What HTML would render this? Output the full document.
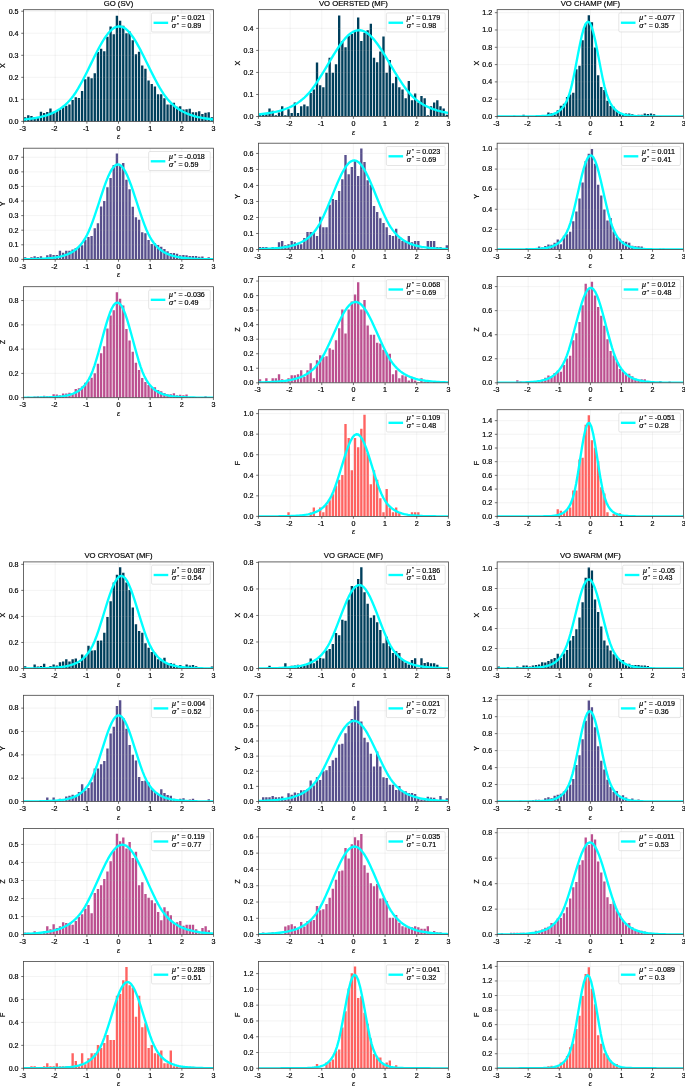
<!DOCTYPE html>
<html><head><meta charset="utf-8"><title>Histograms</title><style>html,body{margin:0;padding:0;background:#fff}svg{display:block;will-change:transform}</style></head><body>
<svg width="685" height="1086" viewBox="0 0 685 1086" font-family="Liberation Sans, sans-serif">
<rect width="685" height="1086" fill="#fff"/>
<clipPath id="c0"><rect x="23.55" y="9.70" width="189.90" height="111.70"/></clipPath>
<g clip-path="url(#c0)">
<path d="M23.95 121.40h2.37V117.21h-2.37zM27.11 121.40h2.37V115.23h-2.37zM30.28 121.40h2.37V116.11h-2.37zM33.44 121.40h2.37V116.99h-2.37zM36.61 121.40h2.37V116.99h-2.37zM39.77 121.40h2.37V111.71h-2.37zM42.94 121.40h2.37V113.03h-2.37zM46.10 121.40h2.37V111.93h-2.37zM49.27 121.40h2.37V108.40h-2.37zM52.43 121.40h2.37V112.59h-2.37zM55.60 121.40h2.37V110.82h-2.37zM58.76 121.40h2.37V109.50h-2.37zM61.93 121.40h2.37V107.30h-2.37zM65.09 121.40h2.37V105.76h-2.37zM68.26 121.40h2.37V104.44h-2.37zM71.42 121.40h2.37V100.03h-2.37zM74.59 121.40h2.37V97.17h-2.37zM77.75 121.40h2.37V98.05h-2.37zM80.92 121.40h2.37V91.00h-2.37zM84.08 121.40h2.37V79.32h-2.37zM87.25 121.40h2.37V76.68h-2.37zM90.41 121.40h2.37V78.22h-2.37zM93.58 121.40h2.37V73.15h-2.37zM96.74 121.40h2.37V52.00h-2.37zM99.91 121.40h2.37V48.70h-2.37zM103.07 121.40h2.37V51.34h-2.37zM106.24 121.40h2.37V36.80h-2.37zM109.40 121.40h2.37V26.44h-2.37zM112.57 121.40h2.37V34.16h-2.37zM115.73 121.40h2.37V15.87h-2.37zM118.90 121.40h2.37V20.72h-2.37zM122.06 121.40h2.37V25.78h-2.37zM125.23 121.40h2.37V33.27h-2.37zM128.39 121.40h2.37V31.51h-2.37zM131.56 121.40h2.37V40.32h-2.37zM134.72 121.40h2.37V54.20h-2.37zM137.89 121.40h2.37V51.78h-2.37zM141.05 121.40h2.37V65.44h-2.37zM144.22 121.40h2.37V68.74h-2.37zM147.38 121.40h2.37V80.42h-2.37zM150.55 121.40h2.37V83.95h-2.37zM153.71 121.40h2.37V86.59h-2.37zM156.88 121.40h2.37V94.30h-2.37zM160.04 121.40h2.37V94.30h-2.37zM163.21 121.40h2.37V98.27h-2.37zM166.37 121.40h2.37V104.44h-2.37zM169.54 121.40h2.37V104.44h-2.37zM172.70 121.40h2.37V102.67h-2.37zM175.87 121.40h2.37V106.64h-2.37zM179.03 121.40h2.37V106.20h-2.37zM182.20 121.40h2.37V109.50h-2.37zM185.36 121.40h2.37V109.28h-2.37zM188.53 121.40h2.37V108.84h-2.37zM191.69 121.40h2.37V112.37h-2.37zM194.86 121.40h2.37V112.37h-2.37zM198.02 121.40h2.37V111.27h-2.37zM201.19 121.40h2.37V113.91h-2.37zM204.35 121.40h2.37V112.81h-2.37zM207.52 121.40h2.37V112.15h-2.37zM210.68 121.40h2.37V117.21h-2.37z" fill="#003f5c"/>
<path d="M55.20 9.70V121.40M86.85 9.70V121.40M118.50 9.70V121.40M150.15 9.70V121.40M181.80 9.70V121.40M23.55 99.37H213.45M23.55 77.34H213.45M23.55 55.31H213.45M23.55 33.27H213.45M23.55 11.24H213.45" stroke="#a8a8a8" stroke-opacity="0.23" stroke-width="0.55" fill="none"/>
<path d="M23.55 119.60L25.47 119.41L27.39 119.19L29.30 118.95L31.22 118.69L33.14 118.40L35.06 118.08L36.98 117.72L38.90 117.32L40.81 116.89L42.73 116.40L44.65 115.86L46.57 115.27L48.49 114.61L50.40 113.88L52.32 113.07L54.24 112.17L56.16 111.18L58.08 110.08L60.00 108.87L61.91 107.52L63.83 106.02L65.75 104.37L67.67 102.54L69.59 100.51L71.50 98.26L73.42 95.78L75.34 93.02L77.26 89.97L79.18 86.70L81.10 83.27L83.01 79.69L84.93 75.98L86.85 72.18L88.77 68.30L90.69 64.39L92.60 60.47L94.52 56.58L96.44 52.76L98.36 49.05L100.28 45.49L102.20 42.13L104.11 39.00L106.03 36.15L107.95 33.60L109.87 31.40L111.79 29.56L113.70 28.13L115.62 27.11L117.54 26.52L119.46 26.36L121.38 26.65L123.30 27.37L125.21 28.52L127.13 30.08L129.05 32.03L130.97 34.35L132.89 36.99L134.80 39.93L136.72 43.14L138.64 46.56L140.56 50.17L142.48 53.92L144.40 57.76L146.31 61.67L148.23 65.59L150.15 69.50L152.07 73.36L153.99 77.13L155.90 80.80L157.82 84.34L159.74 87.72L161.66 90.94L163.58 93.90L165.50 96.57L167.41 98.98L169.33 101.16L171.25 103.12L173.17 104.90L175.09 106.50L177.00 107.95L178.92 109.25L180.84 110.43L182.76 111.50L184.68 112.46L186.60 113.33L188.51 114.11L190.43 114.82L192.35 115.46L194.27 116.03L196.19 116.56L198.10 117.03L200.02 117.45L201.94 117.83L203.86 118.18L205.78 118.49L207.70 118.78L209.61 119.03L211.53 119.26L213.45 119.47" stroke="#00ffff" stroke-width="2.35" fill="none" stroke-linejoin="round"/>
</g>
<rect x="23.55" y="9.70" width="189.90" height="111.70" fill="none" stroke="#444" stroke-width="0.8"/>
<path d="M23.55 121.40v2.3M55.20 121.40v2.3M86.85 121.40v2.3M118.50 121.40v2.3M150.15 121.40v2.3M181.80 121.40v2.3M213.45 121.40v2.3M23.55 121.40h-2.3M23.55 99.37h-2.3M23.55 77.34h-2.3M23.55 55.31h-2.3M23.55 33.27h-2.3M23.55 11.24h-2.3" stroke="#333" stroke-width="0.7" fill="none"/>
<g font-size="6.4" fill="#000" stroke="#000" stroke-width="0.18">
<text transform="translate(22.75 130.90) scale(1.113 1)" text-anchor="middle">-3</text>
<text transform="translate(54.40 130.90) scale(1.113 1)" text-anchor="middle">-2</text>
<text transform="translate(86.05 130.90) scale(1.113 1)" text-anchor="middle">-1</text>
<text transform="translate(118.50 130.90) scale(1.113 1)" text-anchor="middle">0</text>
<text transform="translate(150.15 130.90) scale(1.113 1)" text-anchor="middle">1</text>
<text transform="translate(181.80 130.90) scale(1.113 1)" text-anchor="middle">2</text>
<text transform="translate(213.45 130.90) scale(1.113 1)" text-anchor="middle">3</text>
<text transform="translate(18.55 123.70) scale(1.113 1)" text-anchor="end">0.0</text>
<text transform="translate(18.55 101.67) scale(1.113 1)" text-anchor="end">0.1</text>
<text transform="translate(18.55 79.64) scale(1.113 1)" text-anchor="end">0.2</text>
<text transform="translate(18.55 57.61) scale(1.113 1)" text-anchor="end">0.3</text>
<text transform="translate(18.55 35.57) scale(1.113 1)" text-anchor="end">0.4</text>
<text transform="translate(18.55 13.54) scale(1.113 1)" text-anchor="end">0.5</text>
</g>
<text transform="translate(5.15 65.55) rotate(-90) scale(1.113 1)" font-size="6.4" text-anchor="middle" fill="#000" stroke="#000" stroke-width="0.18">X</text>
<text x="118.50" y="139.40" font-size="7" font-style="italic" text-anchor="middle" fill="#000" stroke="#000" stroke-width="0.18">ε</text>
<text transform="translate(118.50 5.60) scale(0.965 1)" font-size="8" text-anchor="middle" fill="#000" stroke="#000" stroke-width="0.18">GO (SV)</text>
<rect x="151.45" y="13.00" width="58.80" height="19.00" rx="1.3" fill="#fff" fill-opacity="0.8" stroke="#d4d4d4" stroke-width="0.6"/>
<path d="M153.55 22.80h14.6" stroke="#00ffff" stroke-width="2.35"/>
<g font-size="6.4" fill="#000" stroke="#000" stroke-width="0.18" transform="translate(171.85 20.40) scale(1.113 1)"><text font-style="italic">μ</text><text x="4.7" y="-2.3" font-size="4.4">*</text><text x="8.6">=</text><text x="14.0">0.021</text></g>
<g font-size="6.4" fill="#000" stroke="#000" stroke-width="0.18" transform="translate(171.85 28.10) scale(1.113 1)"><text font-style="italic">σ</text><text x="4.7" y="-2.3" font-size="4.4">*</text><text x="8.6">=</text><text x="14.0">0.89</text></g>
<clipPath id="c1"><rect x="23.55" y="148.20" width="189.90" height="111.20"/></clipPath>
<g clip-path="url(#c1)">
<path d="M23.95 259.40h2.37V257.21h-2.37zM27.11 259.40h2.37V258.96h-2.37zM30.28 259.40h2.37V257.21h-2.37zM33.44 259.40h2.37V256.19h-2.37zM36.61 259.40h2.37V256.92h-2.37zM39.77 259.40h2.37V256.19h-2.37zM42.94 259.40h2.37V258.67h-2.37zM46.10 259.40h2.37V255.31h-2.37zM49.27 259.40h2.37V254.15h-2.37zM52.43 259.40h2.37V254.88h-2.37zM55.60 259.40h2.37V254.88h-2.37zM58.76 259.40h2.37V250.64h-2.37zM61.93 259.40h2.37V252.83h-2.37zM65.09 259.40h2.37V250.64h-2.37zM68.26 259.40h2.37V250.64h-2.37zM71.42 259.40h2.37V249.48h-2.37zM74.59 259.40h2.37V248.02h-2.37zM77.75 259.40h2.37V247.00h-2.37zM80.92 259.40h2.37V245.24h-2.37zM84.08 259.40h2.37V239.70h-2.37zM87.25 259.40h2.37V237.07h-2.37zM90.41 259.40h2.37V236.05h-2.37zM93.58 259.40h2.37V228.32h-2.37zM96.74 259.40h2.37V223.35h-2.37zM99.91 259.40h2.37V206.57h-2.37zM103.07 259.40h2.37V201.03h-2.37zM106.24 259.40h2.37V187.16h-2.37zM109.40 259.40h2.37V178.12h-2.37zM112.57 259.40h2.37V164.98h-2.37zM115.73 259.40h2.37V153.60h-2.37zM118.90 259.40h2.37V166.00h-2.37zM122.06 259.40h2.37V162.94h-2.37zM125.23 259.40h2.37V179.72h-2.37zM128.39 259.40h2.37V189.21h-2.37zM131.56 259.40h2.37V206.72h-2.37zM134.72 259.40h2.37V217.37h-2.37zM137.89 259.40h2.37V219.85h-2.37zM141.05 259.40h2.37V232.26h-2.37zM144.22 259.40h2.37V233.28h-2.37zM147.38 259.40h2.37V239.99h-2.37zM150.55 259.40h2.37V243.93h-2.37zM153.71 259.40h2.37V243.35h-2.37zM156.88 259.40h2.37V245.10h-2.37zM160.04 259.40h2.37V246.85h-2.37zM163.21 259.40h2.37V249.04h-2.37zM166.37 259.40h2.37V251.23h-2.37zM169.54 259.40h2.37V252.98h-2.37zM172.70 259.40h2.37V252.98h-2.37zM175.87 259.40h2.37V253.85h-2.37zM179.03 259.40h2.37V255.17h-2.37zM182.20 259.40h2.37V254.88h-2.37zM185.36 259.40h2.37V255.31h-2.37zM188.53 259.40h2.37V256.04h-2.37zM191.69 259.40h2.37V256.04h-2.37zM194.86 259.40h2.37V256.04h-2.37zM198.02 259.40h2.37V256.63h-2.37zM201.19 259.40h2.37V256.48h-2.37zM204.35 259.40h2.37V258.23h-2.37zM207.52 259.40h2.37V257.21h-2.37zM210.68 259.40h2.37V257.94h-2.37z" fill="#58508d"/>
<path d="M55.20 148.20V259.40M86.85 148.20V259.40M118.50 148.20V259.40M150.15 148.20V259.40M181.80 148.20V259.40M23.55 244.81H213.45M23.55 230.21H213.45M23.55 215.62H213.45M23.55 201.03H213.45M23.55 186.43H213.45M23.55 171.84H213.45M23.55 157.25H213.45" stroke="#a8a8a8" stroke-opacity="0.23" stroke-width="0.55" fill="none"/>
<path d="M23.55 259.25L25.47 259.23L27.39 259.20L29.30 259.16L31.22 259.12L33.14 259.08L35.06 259.02L36.98 258.96L38.90 258.89L40.81 258.80L42.73 258.70L44.65 258.59L46.57 258.45L48.49 258.29L50.40 258.11L52.32 257.90L54.24 257.64L56.16 257.35L58.08 257.01L60.00 256.61L61.91 256.15L63.83 255.61L65.75 254.98L67.67 254.24L69.59 253.38L71.50 252.38L73.42 251.21L75.34 249.84L77.26 248.25L79.18 246.39L81.10 244.23L83.01 241.70L84.93 238.75L86.85 235.31L88.77 231.29L90.69 226.64L92.60 221.54L94.52 216.11L96.44 210.42L98.36 204.57L100.28 198.66L102.20 192.81L104.11 187.18L106.03 181.88L107.95 177.07L109.87 172.89L111.79 169.44L113.70 166.84L115.62 165.16L117.54 164.46L119.46 164.75L121.38 166.04L123.30 168.28L125.21 171.39L127.13 175.29L129.05 179.86L130.97 184.98L132.89 190.49L134.80 196.27L136.72 202.17L138.64 208.06L140.56 213.83L142.48 219.38L144.40 224.61L146.31 229.48L148.23 233.75L150.15 237.41L152.07 240.55L153.99 243.25L155.90 245.55L157.82 247.53L159.74 249.22L161.66 250.68L163.58 251.92L165.50 252.99L167.41 253.91L169.33 254.69L171.25 255.36L173.17 255.94L175.09 256.43L177.00 256.86L178.92 257.22L180.84 257.53L182.76 257.80L184.68 258.03L186.60 258.22L188.51 258.39L190.43 258.54L192.35 258.66L194.27 258.76L196.19 258.86L198.10 258.93L200.02 259.00L201.94 259.06L203.86 259.11L205.78 259.15L207.70 259.18L209.61 259.21L211.53 259.24L213.45 259.26" stroke="#00ffff" stroke-width="2.35" fill="none" stroke-linejoin="round"/>
</g>
<rect x="23.55" y="148.20" width="189.90" height="111.20" fill="none" stroke="#444" stroke-width="0.8"/>
<path d="M23.55 259.40v2.3M55.20 259.40v2.3M86.85 259.40v2.3M118.50 259.40v2.3M150.15 259.40v2.3M181.80 259.40v2.3M213.45 259.40v2.3M23.55 259.40h-2.3M23.55 244.81h-2.3M23.55 230.21h-2.3M23.55 215.62h-2.3M23.55 201.03h-2.3M23.55 186.43h-2.3M23.55 171.84h-2.3M23.55 157.25h-2.3" stroke="#333" stroke-width="0.7" fill="none"/>
<g font-size="6.4" fill="#000" stroke="#000" stroke-width="0.18">
<text transform="translate(22.75 268.90) scale(1.113 1)" text-anchor="middle">-3</text>
<text transform="translate(54.40 268.90) scale(1.113 1)" text-anchor="middle">-2</text>
<text transform="translate(86.05 268.90) scale(1.113 1)" text-anchor="middle">-1</text>
<text transform="translate(118.50 268.90) scale(1.113 1)" text-anchor="middle">0</text>
<text transform="translate(150.15 268.90) scale(1.113 1)" text-anchor="middle">1</text>
<text transform="translate(181.80 268.90) scale(1.113 1)" text-anchor="middle">2</text>
<text transform="translate(213.45 268.90) scale(1.113 1)" text-anchor="middle">3</text>
<text transform="translate(18.55 261.70) scale(1.113 1)" text-anchor="end">0.0</text>
<text transform="translate(18.55 247.11) scale(1.113 1)" text-anchor="end">0.1</text>
<text transform="translate(18.55 232.51) scale(1.113 1)" text-anchor="end">0.2</text>
<text transform="translate(18.55 217.92) scale(1.113 1)" text-anchor="end">0.3</text>
<text transform="translate(18.55 203.33) scale(1.113 1)" text-anchor="end">0.4</text>
<text transform="translate(18.55 188.73) scale(1.113 1)" text-anchor="end">0.5</text>
<text transform="translate(18.55 174.14) scale(1.113 1)" text-anchor="end">0.6</text>
<text transform="translate(18.55 159.55) scale(1.113 1)" text-anchor="end">0.7</text>
</g>
<text transform="translate(5.15 203.80) rotate(-90) scale(1.113 1)" font-size="6.4" text-anchor="middle" fill="#000" stroke="#000" stroke-width="0.18">Y</text>
<text x="118.50" y="277.40" font-size="7" font-style="italic" text-anchor="middle" fill="#000" stroke="#000" stroke-width="0.18">ε</text>
<rect x="148.65" y="151.50" width="61.60" height="19.00" rx="1.3" fill="#fff" fill-opacity="0.8" stroke="#d4d4d4" stroke-width="0.6"/>
<path d="M150.75 161.30h14.6" stroke="#00ffff" stroke-width="2.35"/>
<g font-size="6.4" fill="#000" stroke="#000" stroke-width="0.18" transform="translate(169.05 158.90) scale(1.113 1)"><text font-style="italic">μ</text><text x="4.7" y="-2.3" font-size="4.4">*</text><text x="8.6">=</text><text x="14.0">-0.018</text></g>
<g font-size="6.4" fill="#000" stroke="#000" stroke-width="0.18" transform="translate(169.05 166.60) scale(1.113 1)"><text font-style="italic">σ</text><text x="4.7" y="-2.3" font-size="4.4">*</text><text x="8.6">=</text><text x="14.0">0.59</text></g>
<clipPath id="c2"><rect x="23.55" y="286.70" width="189.90" height="111.00"/></clipPath>
<g clip-path="url(#c2)">
<path d="M23.95 397.70h2.37V397.46h-2.37zM27.11 397.70h2.37V396.73h-2.37zM30.28 397.70h2.37V397.34h-2.37zM33.44 397.70h2.37V396.49h-2.37zM36.61 397.70h2.37V396.36h-2.37zM39.77 397.70h2.37V396.73h-2.37zM42.94 397.70h2.37V395.64h-2.37zM46.10 397.70h2.37V396.36h-2.37zM49.27 397.70h2.37V395.88h-2.37zM52.43 397.70h2.37V394.18h-2.37zM55.60 397.70h2.37V394.42h-2.37zM58.76 397.70h2.37V395.15h-2.37zM61.93 397.70h2.37V393.45h-2.37zM65.09 397.70h2.37V393.45h-2.37zM68.26 397.70h2.37V392.72h-2.37zM71.42 397.70h2.37V393.69h-2.37zM74.59 397.70h2.37V389.08h-2.37zM77.75 397.70h2.37V388.35h-2.37zM80.92 397.70h2.37V386.41h-2.37zM84.08 397.70h2.37V382.76h-2.37zM87.25 397.70h2.37V381.31h-2.37zM90.41 397.70h2.37V377.66h-2.37zM93.58 397.70h2.37V373.29h-2.37zM96.74 397.70h2.37V363.82h-2.37zM99.91 397.70h2.37V353.13h-2.37zM103.07 397.70h2.37V346.33h-2.37zM106.24 397.70h2.37V328.48h-2.37zM109.40 397.70h2.37V315.60h-2.37zM112.57 397.70h2.37V310.26h-2.37zM115.73 397.70h2.37V292.29h-2.37zM118.90 397.70h2.37V298.84h-2.37zM122.06 397.70h2.37V305.40h-2.37zM125.23 397.70h2.37V329.08h-2.37zM128.39 397.70h2.37V340.50h-2.37zM131.56 397.70h2.37V351.79h-2.37zM134.72 397.70h2.37V362.72h-2.37zM137.89 397.70h2.37V370.01h-2.37zM141.05 397.70h2.37V377.90h-2.37zM144.22 397.70h2.37V382.03h-2.37zM147.38 397.70h2.37V384.95h-2.37zM150.55 397.70h2.37V387.38h-2.37zM153.71 397.70h2.37V387.13h-2.37zM156.88 397.70h2.37V390.05h-2.37zM160.04 397.70h2.37V391.26h-2.37zM163.21 397.70h2.37V392.96h-2.37zM166.37 397.70h2.37V394.18h-2.37zM169.54 397.70h2.37V394.18h-2.37zM172.70 397.70h2.37V393.21h-2.37zM175.87 397.70h2.37V395.15h-2.37zM179.03 397.70h2.37V394.66h-2.37zM182.20 397.70h2.37V395.15h-2.37zM185.36 397.70h2.37V394.42h-2.37zM188.53 397.70h2.37V397.09h-2.37zM191.69 397.70h2.37V397.09h-2.37zM194.86 397.70h2.37V397.09h-2.37zM198.02 397.70h2.37V397.34h-2.37zM201.19 397.70h2.37V397.09h-2.37zM204.35 397.70h2.37V396.36h-2.37zM207.52 397.70h2.37V397.34h-2.37zM210.68 397.70h2.37V397.34h-2.37z" fill="#bc5090"/>
<path d="M55.20 286.70V397.70M86.85 286.70V397.70M118.50 286.70V397.70M150.15 286.70V397.70M181.80 286.70V397.70M23.55 373.41H213.45M23.55 349.12H213.45M23.55 324.83H213.45M23.55 300.54H213.45" stroke="#a8a8a8" stroke-opacity="0.23" stroke-width="0.55" fill="none"/>
<path d="M23.55 397.67L25.47 397.66L27.39 397.65L29.30 397.64L31.22 397.63L33.14 397.62L35.06 397.60L36.98 397.58L38.90 397.55L40.81 397.52L42.73 397.49L44.65 397.44L46.57 397.39L48.49 397.33L50.40 397.25L52.32 397.16L54.24 397.05L56.16 396.91L58.08 396.75L60.00 396.56L61.91 396.33L63.83 396.05L65.75 395.71L67.67 395.30L69.59 394.81L71.50 394.23L73.42 393.52L75.34 392.67L77.26 391.64L79.18 390.40L81.10 388.92L83.01 387.13L84.93 384.97L86.85 382.37L88.77 379.25L90.69 375.49L92.60 370.96L94.52 365.52L96.44 359.39L98.36 352.78L100.28 345.83L102.20 338.71L104.11 331.63L106.03 324.83L107.95 318.54L109.87 313.02L111.79 308.49L113.70 305.15L115.62 303.14L117.54 302.55L119.46 303.41L121.38 305.68L123.30 309.26L125.21 313.99L127.13 319.67L129.05 326.07L130.97 332.95L132.89 340.05L134.80 347.15L136.72 354.05L138.64 360.58L140.56 366.61L142.48 371.88L144.40 376.25L146.31 379.88L148.23 382.90L150.15 385.41L152.07 387.49L153.99 389.22L155.90 390.65L157.82 391.85L159.74 392.84L161.66 393.66L163.58 394.35L165.50 394.91L167.41 395.39L169.33 395.78L171.25 396.10L173.17 396.37L175.09 396.60L177.00 396.78L178.92 396.94L180.84 397.07L182.76 397.18L184.68 397.26L186.60 397.34L188.51 397.40L190.43 397.45L192.35 397.49L194.27 397.53L196.19 397.56L198.10 397.58L200.02 397.60L201.94 397.62L203.86 397.63L205.78 397.64L207.70 397.65L209.61 397.66L211.53 397.67L213.45 397.67" stroke="#00ffff" stroke-width="2.35" fill="none" stroke-linejoin="round"/>
</g>
<rect x="23.55" y="286.70" width="189.90" height="111.00" fill="none" stroke="#444" stroke-width="0.8"/>
<path d="M23.55 397.70v2.3M55.20 397.70v2.3M86.85 397.70v2.3M118.50 397.70v2.3M150.15 397.70v2.3M181.80 397.70v2.3M213.45 397.70v2.3M23.55 397.70h-2.3M23.55 373.41h-2.3M23.55 349.12h-2.3M23.55 324.83h-2.3M23.55 300.54h-2.3" stroke="#333" stroke-width="0.7" fill="none"/>
<g font-size="6.4" fill="#000" stroke="#000" stroke-width="0.18">
<text transform="translate(22.75 407.20) scale(1.113 1)" text-anchor="middle">-3</text>
<text transform="translate(54.40 407.20) scale(1.113 1)" text-anchor="middle">-2</text>
<text transform="translate(86.05 407.20) scale(1.113 1)" text-anchor="middle">-1</text>
<text transform="translate(118.50 407.20) scale(1.113 1)" text-anchor="middle">0</text>
<text transform="translate(150.15 407.20) scale(1.113 1)" text-anchor="middle">1</text>
<text transform="translate(181.80 407.20) scale(1.113 1)" text-anchor="middle">2</text>
<text transform="translate(213.45 407.20) scale(1.113 1)" text-anchor="middle">3</text>
<text transform="translate(18.55 400.00) scale(1.113 1)" text-anchor="end">0.0</text>
<text transform="translate(18.55 375.71) scale(1.113 1)" text-anchor="end">0.2</text>
<text transform="translate(18.55 351.42) scale(1.113 1)" text-anchor="end">0.4</text>
<text transform="translate(18.55 327.13) scale(1.113 1)" text-anchor="end">0.6</text>
<text transform="translate(18.55 302.84) scale(1.113 1)" text-anchor="end">0.8</text>
</g>
<text transform="translate(5.15 342.20) rotate(-90) scale(1.113 1)" font-size="6.4" text-anchor="middle" fill="#000" stroke="#000" stroke-width="0.18">Z</text>
<text x="118.50" y="415.70" font-size="7" font-style="italic" text-anchor="middle" fill="#000" stroke="#000" stroke-width="0.18">ε</text>
<rect x="148.65" y="290.00" width="61.60" height="19.00" rx="1.3" fill="#fff" fill-opacity="0.8" stroke="#d4d4d4" stroke-width="0.6"/>
<path d="M150.75 299.80h14.6" stroke="#00ffff" stroke-width="2.35"/>
<g font-size="6.4" fill="#000" stroke="#000" stroke-width="0.18" transform="translate(169.05 297.40) scale(1.113 1)"><text font-style="italic">μ</text><text x="4.7" y="-2.3" font-size="4.4">*</text><text x="8.6">=</text><text x="14.0">-0.036</text></g>
<g font-size="6.4" fill="#000" stroke="#000" stroke-width="0.18" transform="translate(169.05 305.10) scale(1.113 1)"><text font-style="italic">σ</text><text x="4.7" y="-2.3" font-size="4.4">*</text><text x="8.6">=</text><text x="14.0">0.49</text></g>
<clipPath id="c3"><rect x="258.45" y="9.65" width="189.95" height="106.85"/></clipPath>
<g clip-path="url(#c3)">
<path d="M258.85 116.50h2.37V114.74h-2.37zM262.01 116.50h2.37V114.74h-2.37zM265.18 116.50h2.37V114.30h-2.37zM268.34 116.50h2.37V108.57h-2.37zM271.51 116.50h2.37V110.77h-2.37zM274.67 116.50h2.37V115.18h-2.37zM277.84 116.50h2.37V112.53h-2.37zM281.01 116.50h2.37V106.37h-2.37zM284.17 116.50h2.37V115.18h-2.37zM287.34 116.50h2.37V109.23h-2.37zM290.50 116.50h2.37V112.98h-2.37zM293.67 116.50h2.37V102.40h-2.37zM296.84 116.50h2.37V112.98h-2.37zM300.00 116.50h2.37V106.37h-2.37zM303.17 116.50h2.37V104.60h-2.37zM306.33 116.50h2.37V106.37h-2.37zM309.50 116.50h2.37V92.93h-2.37zM312.66 116.50h2.37V89.62h-2.37zM315.83 116.50h2.37V62.52h-2.37zM319.00 116.50h2.37V85.22h-2.37zM322.16 116.50h2.37V87.20h-2.37zM325.33 116.50h2.37V72.66h-2.37zM328.49 116.50h2.37V57.68h-2.37zM331.66 116.50h2.37V72.66h-2.37zM334.83 116.50h2.37V64.29h-2.37zM337.99 116.50h2.37V15.38h-2.37zM341.16 116.50h2.37V40.93h-2.37zM344.32 116.50h2.37V47.32h-2.37zM347.49 116.50h2.37V35.87h-2.37zM350.65 116.50h2.37V33.88h-2.37zM353.82 116.50h2.37V32.12h-2.37zM356.99 116.50h2.37V17.58h-2.37zM360.15 116.50h2.37V40.93h-2.37zM363.32 116.50h2.37V32.78h-2.37zM366.48 116.50h2.37V30.14h-2.37zM369.65 116.50h2.37V23.75h-2.37zM372.82 116.50h2.37V57.68h-2.37zM375.98 116.50h2.37V62.30h-2.37zM379.15 116.50h2.37V51.51h-2.37zM382.31 116.50h2.37V36.53h-2.37zM385.48 116.50h2.37V72.66h-2.37zM388.64 116.50h2.37V59.88h-2.37zM391.81 116.50h2.37V83.23h-2.37zM394.98 116.50h2.37V76.84h-2.37zM398.14 116.50h2.37V87.20h-2.37zM401.31 116.50h2.37V89.62h-2.37zM404.47 116.50h2.37V98.21h-2.37zM407.64 116.50h2.37V81.03h-2.37zM410.81 116.50h2.37V100.20h-2.37zM413.97 116.50h2.37V93.59h-2.37zM417.14 116.50h2.37V102.40h-2.37zM420.30 116.50h2.37V96.01h-2.37zM423.47 116.50h2.37V98.21h-2.37zM426.63 116.50h2.37V115.18h-2.37zM429.80 116.50h2.37V106.37h-2.37zM432.97 116.50h2.37V102.40h-2.37zM436.13 116.50h2.37V100.20h-2.37zM439.30 116.50h2.37V106.37h-2.37zM442.46 116.50h2.37V108.57h-2.37zM445.63 116.50h2.37V114.74h-2.37z" fill="#003f5c"/>
<path d="M290.11 9.65V116.50M321.77 9.65V116.50M353.42 9.65V116.50M385.08 9.65V116.50M416.74 9.65V116.50M258.45 94.47H448.40M258.45 72.44H448.40M258.45 50.41H448.40M258.45 28.38H448.40" stroke="#a8a8a8" stroke-opacity="0.23" stroke-width="0.55" fill="none"/>
<path d="M258.45 114.45L260.37 114.25L262.29 114.03L264.21 113.79L266.12 113.53L268.04 113.24L269.96 112.93L271.88 112.58L273.80 112.20L275.72 111.78L277.64 111.32L279.56 110.82L281.47 110.26L283.39 109.66L285.31 108.99L287.23 108.26L289.15 107.46L291.07 106.58L292.99 105.62L294.91 104.56L296.82 103.40L298.74 102.13L300.66 100.73L302.58 99.20L304.50 97.52L306.42 95.67L308.34 93.65L310.25 91.43L312.17 88.99L314.09 86.35L316.01 83.59L317.93 80.70L319.85 77.72L321.77 74.64L323.69 71.49L325.60 68.30L327.52 65.07L329.44 61.83L331.36 58.61L333.28 55.44L335.20 52.34L337.12 49.34L339.03 46.46L340.95 43.75L342.87 41.21L344.79 38.89L346.71 36.80L348.63 34.96L350.55 33.40L352.47 32.13L354.38 31.18L356.30 30.54L358.22 30.22L360.14 30.24L362.06 30.58L363.98 31.25L365.90 32.24L367.82 33.53L369.73 35.12L371.65 36.98L373.57 39.09L375.49 41.44L377.41 43.99L379.33 46.73L381.25 49.61L383.16 52.62L385.08 55.73L387.00 58.91L388.92 62.13L390.84 65.37L392.76 68.60L394.68 71.79L396.60 74.93L398.51 78.00L400.43 80.98L402.35 83.85L404.27 86.60L406.19 89.23L408.11 91.64L410.03 93.84L411.94 95.85L413.86 97.68L415.78 99.35L417.70 100.87L419.62 102.25L421.54 103.51L423.46 104.67L425.38 105.71L427.29 106.67L429.21 107.54L431.13 108.33L433.05 109.06L434.97 109.72L436.89 110.32L438.81 110.87L440.73 111.36L442.64 111.82L444.56 112.23L446.48 112.61L448.40 112.96" stroke="#00ffff" stroke-width="2.35" fill="none" stroke-linejoin="round"/>
</g>
<rect x="258.45" y="9.65" width="189.95" height="106.85" fill="none" stroke="#444" stroke-width="0.8"/>
<path d="M258.45 116.50v2.3M290.11 116.50v2.3M321.77 116.50v2.3M353.42 116.50v2.3M385.08 116.50v2.3M416.74 116.50v2.3M448.40 116.50v2.3M258.45 116.50h-2.3M258.45 94.47h-2.3M258.45 72.44h-2.3M258.45 50.41h-2.3M258.45 28.38h-2.3" stroke="#333" stroke-width="0.7" fill="none"/>
<g font-size="6.4" fill="#000" stroke="#000" stroke-width="0.18">
<text transform="translate(257.65 126.00) scale(1.113 1)" text-anchor="middle">-3</text>
<text transform="translate(289.31 126.00) scale(1.113 1)" text-anchor="middle">-2</text>
<text transform="translate(320.97 126.00) scale(1.113 1)" text-anchor="middle">-1</text>
<text transform="translate(353.42 126.00) scale(1.113 1)" text-anchor="middle">0</text>
<text transform="translate(385.08 126.00) scale(1.113 1)" text-anchor="middle">1</text>
<text transform="translate(416.74 126.00) scale(1.113 1)" text-anchor="middle">2</text>
<text transform="translate(448.40 126.00) scale(1.113 1)" text-anchor="middle">3</text>
<text transform="translate(253.45 118.80) scale(1.113 1)" text-anchor="end">0.0</text>
<text transform="translate(253.45 96.77) scale(1.113 1)" text-anchor="end">0.1</text>
<text transform="translate(253.45 74.74) scale(1.113 1)" text-anchor="end">0.2</text>
<text transform="translate(253.45 52.71) scale(1.113 1)" text-anchor="end">0.3</text>
<text transform="translate(253.45 30.68) scale(1.113 1)" text-anchor="end">0.4</text>
</g>
<text transform="translate(240.05 63.08) rotate(-90) scale(1.113 1)" font-size="6.4" text-anchor="middle" fill="#000" stroke="#000" stroke-width="0.18">X</text>
<text x="353.42" y="134.50" font-size="7" font-style="italic" text-anchor="middle" fill="#000" stroke="#000" stroke-width="0.18">ε</text>
<text transform="translate(353.42 5.55) scale(0.965 1)" font-size="8" text-anchor="middle" fill="#000" stroke="#000" stroke-width="0.18">VO OERSTED (MF)</text>
<rect x="386.40" y="12.95" width="58.80" height="19.00" rx="1.3" fill="#fff" fill-opacity="0.8" stroke="#d4d4d4" stroke-width="0.6"/>
<path d="M388.50 22.75h14.6" stroke="#00ffff" stroke-width="2.35"/>
<g font-size="6.4" fill="#000" stroke="#000" stroke-width="0.18" transform="translate(406.80 20.35) scale(1.113 1)"><text font-style="italic">μ</text><text x="4.7" y="-2.3" font-size="4.4">*</text><text x="8.6">=</text><text x="14.0">0.179</text></g>
<g font-size="6.4" fill="#000" stroke="#000" stroke-width="0.18" transform="translate(406.80 28.05) scale(1.113 1)"><text font-style="italic">σ</text><text x="4.7" y="-2.3" font-size="4.4">*</text><text x="8.6">=</text><text x="14.0">0.98</text></g>
<clipPath id="c4"><rect x="258.45" y="143.20" width="189.95" height="106.30"/></clipPath>
<g clip-path="url(#c4)">
<path d="M258.85 249.50h2.37V247.10h-2.37zM262.01 249.50h2.37V247.10h-2.37zM265.18 249.50h2.37V247.10h-2.37zM268.34 249.50h2.37V249.18h-2.37zM271.51 249.50h2.37V247.10h-2.37zM274.67 249.50h2.37V249.18h-2.37zM277.84 249.50h2.37V242.30h-2.37zM281.01 249.50h2.37V241.02h-2.37zM284.17 249.50h2.37V245.18h-2.37zM287.34 249.50h2.37V244.22h-2.37zM290.50 249.50h2.37V241.02h-2.37zM293.67 249.50h2.37V242.30h-2.37zM296.84 249.50h2.37V244.22h-2.37zM300.00 249.50h2.37V244.22h-2.37zM303.17 249.50h2.37V237.97h-2.37zM306.33 249.50h2.37V232.05h-2.37zM309.50 249.50h2.37V232.05h-2.37zM312.66 249.50h2.37V232.85h-2.37zM315.83 249.50h2.37V236.05h-2.37zM319.00 249.50h2.37V216.84h-2.37zM322.16 249.50h2.37V227.25h-2.37zM325.33 249.50h2.37V227.25h-2.37zM328.49 249.50h2.37V204.83h-2.37zM331.66 249.50h2.37V198.91h-2.37zM334.83 249.50h2.37V200.03h-2.37zM337.99 249.50h2.37V190.91h-2.37zM341.16 249.50h2.37V179.22h-2.37zM344.32 249.50h2.37V154.89h-2.37zM347.49 249.50h2.37V174.26h-2.37zM350.65 249.50h2.37V166.89h-2.37zM353.82 249.50h2.37V160.65h-2.37zM356.99 249.50h2.37V176.02h-2.37zM360.15 249.50h2.37V148.48h-2.37zM363.32 249.50h2.37V162.09h-2.37zM366.48 249.50h2.37V180.34h-2.37zM369.65 249.50h2.37V184.66h-2.37zM372.82 249.50h2.37V206.12h-2.37zM375.98 249.50h2.37V212.04h-2.37zM379.15 249.50h2.37V218.28h-2.37zM382.31 249.50h2.37V222.93h-2.37zM385.48 249.50h2.37V227.25h-2.37zM388.64 249.50h2.37V234.93h-2.37zM391.81 249.50h2.37V236.05h-2.37zM394.98 249.50h2.37V228.85h-2.37zM398.14 249.50h2.37V238.61h-2.37zM401.31 249.50h2.37V241.02h-2.37zM404.47 249.50h2.37V241.82h-2.37zM407.64 249.50h2.37V236.05h-2.37zM410.81 249.50h2.37V242.30h-2.37zM413.97 249.50h2.37V241.02h-2.37zM417.14 249.50h2.37V241.02h-2.37zM420.30 249.50h2.37V248.86h-2.37zM423.47 249.50h2.37V249.18h-2.37zM426.63 249.50h2.37V241.02h-2.37zM429.80 249.50h2.37V241.02h-2.37zM432.97 249.50h2.37V241.02h-2.37zM436.13 249.50h2.37V247.10h-2.37zM439.30 249.50h2.37V247.10h-2.37zM442.46 249.50h2.37V249.18h-2.37zM445.63 249.50h2.37V245.18h-2.37z" fill="#58508d"/>
<path d="M290.11 143.20V249.50M321.77 143.20V249.50M353.42 143.20V249.50M385.08 143.20V249.50M416.74 143.20V249.50M258.45 233.49H448.40M258.45 217.48H448.40M258.45 201.47H448.40M258.45 185.46H448.40M258.45 169.45H448.40M258.45 153.45H448.40" stroke="#a8a8a8" stroke-opacity="0.23" stroke-width="0.55" fill="none"/>
<path d="M258.45 249.12L260.37 249.06L262.29 249.00L264.21 248.93L266.12 248.85L268.04 248.76L269.96 248.65L271.88 248.53L273.80 248.40L275.72 248.24L277.64 248.07L279.56 247.86L281.47 247.63L283.39 247.37L285.31 247.07L287.23 246.73L289.15 246.34L291.07 245.89L292.99 245.39L294.91 244.81L296.82 244.15L298.74 243.39L300.66 242.53L302.58 241.55L304.50 240.43L306.42 239.15L308.34 237.70L310.25 236.03L312.17 234.14L314.09 231.98L316.01 229.51L317.93 226.69L319.85 223.48L321.77 219.82L323.69 215.82L325.60 211.58L327.52 207.13L329.44 202.52L331.36 197.82L333.28 193.07L335.20 188.37L337.12 183.78L339.03 179.39L340.95 175.28L342.87 171.54L344.79 168.24L346.71 165.44L348.63 163.22L350.55 161.63L352.47 160.69L354.38 160.43L356.30 160.85L358.22 161.95L360.14 163.70L362.06 166.07L363.98 168.99L365.90 172.41L367.82 176.24L369.73 180.43L371.65 184.87L373.57 189.49L375.49 194.22L377.41 198.96L379.33 203.65L381.25 208.22L383.16 212.62L385.08 216.81L387.00 220.74L388.92 224.29L390.84 227.40L392.76 230.13L394.68 232.52L396.60 234.62L398.51 236.46L400.43 238.07L402.35 239.48L404.27 240.71L406.19 241.80L408.11 242.75L410.03 243.58L411.94 244.31L413.86 244.95L415.78 245.51L417.70 246.01L419.62 246.44L421.54 246.82L423.46 247.15L425.38 247.44L427.29 247.69L429.21 247.92L431.13 248.11L433.05 248.28L434.97 248.43L436.89 248.56L438.81 248.68L440.73 248.78L442.64 248.87L444.56 248.95L446.48 249.02L448.40 249.08" stroke="#00ffff" stroke-width="2.35" fill="none" stroke-linejoin="round"/>
</g>
<rect x="258.45" y="143.20" width="189.95" height="106.30" fill="none" stroke="#444" stroke-width="0.8"/>
<path d="M258.45 249.50v2.3M290.11 249.50v2.3M321.77 249.50v2.3M353.42 249.50v2.3M385.08 249.50v2.3M416.74 249.50v2.3M448.40 249.50v2.3M258.45 249.50h-2.3M258.45 233.49h-2.3M258.45 217.48h-2.3M258.45 201.47h-2.3M258.45 185.46h-2.3M258.45 169.45h-2.3M258.45 153.45h-2.3" stroke="#333" stroke-width="0.7" fill="none"/>
<g font-size="6.4" fill="#000" stroke="#000" stroke-width="0.18">
<text transform="translate(257.65 259.00) scale(1.113 1)" text-anchor="middle">-3</text>
<text transform="translate(289.31 259.00) scale(1.113 1)" text-anchor="middle">-2</text>
<text transform="translate(320.97 259.00) scale(1.113 1)" text-anchor="middle">-1</text>
<text transform="translate(353.42 259.00) scale(1.113 1)" text-anchor="middle">0</text>
<text transform="translate(385.08 259.00) scale(1.113 1)" text-anchor="middle">1</text>
<text transform="translate(416.74 259.00) scale(1.113 1)" text-anchor="middle">2</text>
<text transform="translate(448.40 259.00) scale(1.113 1)" text-anchor="middle">3</text>
<text transform="translate(253.45 251.80) scale(1.113 1)" text-anchor="end">0.0</text>
<text transform="translate(253.45 235.79) scale(1.113 1)" text-anchor="end">0.1</text>
<text transform="translate(253.45 219.78) scale(1.113 1)" text-anchor="end">0.2</text>
<text transform="translate(253.45 203.77) scale(1.113 1)" text-anchor="end">0.3</text>
<text transform="translate(253.45 187.76) scale(1.113 1)" text-anchor="end">0.4</text>
<text transform="translate(253.45 171.75) scale(1.113 1)" text-anchor="end">0.5</text>
<text transform="translate(253.45 155.75) scale(1.113 1)" text-anchor="end">0.6</text>
</g>
<text transform="translate(240.05 196.35) rotate(-90) scale(1.113 1)" font-size="6.4" text-anchor="middle" fill="#000" stroke="#000" stroke-width="0.18">Y</text>
<text x="353.42" y="267.50" font-size="7" font-style="italic" text-anchor="middle" fill="#000" stroke="#000" stroke-width="0.18">ε</text>
<rect x="386.40" y="146.50" width="58.80" height="19.00" rx="1.3" fill="#fff" fill-opacity="0.8" stroke="#d4d4d4" stroke-width="0.6"/>
<path d="M388.50 156.30h14.6" stroke="#00ffff" stroke-width="2.35"/>
<g font-size="6.4" fill="#000" stroke="#000" stroke-width="0.18" transform="translate(406.80 153.90) scale(1.113 1)"><text font-style="italic">μ</text><text x="4.7" y="-2.3" font-size="4.4">*</text><text x="8.6">=</text><text x="14.0">0.023</text></g>
<g font-size="6.4" fill="#000" stroke="#000" stroke-width="0.18" transform="translate(406.80 161.60) scale(1.113 1)"><text font-style="italic">σ</text><text x="4.7" y="-2.3" font-size="4.4">*</text><text x="8.6">=</text><text x="14.0">0.69</text></g>
<clipPath id="c5"><rect x="258.45" y="276.40" width="189.95" height="106.40"/></clipPath>
<g clip-path="url(#c5)">
<path d="M258.85 382.80h2.37V379.17h-2.37zM262.01 382.80h2.37V382.51h-2.37zM265.18 382.80h2.37V378.15h-2.37zM268.34 382.80h2.37V381.49h-2.37zM271.51 382.80h2.37V378.15h-2.37zM274.67 382.80h2.37V378.15h-2.37zM277.84 382.80h2.37V374.22h-2.37zM281.01 382.80h2.37V379.17h-2.37zM284.17 382.80h2.37V381.49h-2.37zM287.34 382.80h2.37V378.15h-2.37zM290.50 382.80h2.37V375.24h-2.37zM293.67 382.80h2.37V375.24h-2.37zM296.84 382.80h2.37V374.22h-2.37zM300.00 382.80h2.37V370.15h-2.37zM303.17 382.80h2.37V376.70h-2.37zM306.33 382.80h2.37V370.15h-2.37zM309.50 382.80h2.37V363.18h-2.37zM312.66 382.80h2.37V378.15h-2.37zM315.83 382.80h2.37V360.27h-2.37zM319.00 382.80h2.37V355.18h-2.37zM322.16 382.80h2.37V357.07h-2.37zM325.33 382.80h2.37V356.35h-2.37zM328.49 382.80h2.37V348.35h-2.37zM331.66 382.80h2.37V349.80h-2.37zM334.83 382.80h2.37V340.36h-2.37zM337.99 382.80h2.37V328.29h-2.37zM341.16 382.80h2.37V309.40h-2.37zM344.32 382.80h2.37V333.38h-2.37zM347.49 382.80h2.37V309.40h-2.37zM350.65 382.80h2.37V301.40h-2.37zM353.82 382.80h2.37V294.57h-2.37zM356.99 382.80h2.37V282.21h-2.37zM360.15 382.80h2.37V309.40h-2.37zM363.32 382.80h2.37V299.95h-2.37zM366.48 382.80h2.37V325.38h-2.37zM369.65 382.80h2.37V334.83h-2.37zM372.82 382.80h2.37V334.83h-2.37zM375.98 382.80h2.37V342.83h-2.37zM379.15 382.80h2.37V343.55h-2.37zM382.31 382.80h2.37V349.80h-2.37zM385.48 382.80h2.37V352.71h-2.37zM388.64 382.80h2.37V353.73h-2.37zM391.81 382.80h2.37V374.22h-2.37zM394.98 382.80h2.37V370.15h-2.37zM398.14 382.80h2.37V378.15h-2.37zM401.31 382.80h2.37V375.24h-2.37zM404.47 382.80h2.37V376.26h-2.37zM407.64 382.80h2.37V380.62h-2.37zM410.81 382.80h2.37V376.70h-2.37zM413.97 382.80h2.37V380.62h-2.37zM417.14 382.80h2.37V382.07h-2.37zM420.30 382.80h2.37V378.15h-2.37zM423.47 382.80h2.37V381.78h-2.37zM426.63 382.80h2.37V382.07h-2.37zM429.80 382.80h2.37V382.51h-2.37zM432.97 382.80h2.37V381.49h-2.37zM436.13 382.80h2.37V382.51h-2.37zM439.30 382.80h2.37V382.51h-2.37zM442.46 382.80h2.37V382.51h-2.37zM445.63 382.80h2.37V382.51h-2.37z" fill="#bc5090"/>
<path d="M290.11 276.40V382.80M321.77 276.40V382.80M353.42 276.40V382.80M385.08 276.40V382.80M416.74 276.40V382.80M258.45 368.26H448.40M258.45 353.73H448.40M258.45 339.19H448.40M258.45 324.66H448.40M258.45 310.12H448.40M258.45 295.59H448.40M258.45 281.05H448.40" stroke="#a8a8a8" stroke-opacity="0.23" stroke-width="0.55" fill="none"/>
<path d="M258.45 382.48L260.37 382.44L262.29 382.39L264.21 382.33L266.12 382.26L268.04 382.19L269.96 382.10L271.88 382.00L273.80 381.89L275.72 381.77L277.64 381.62L279.56 381.45L281.47 381.26L283.39 381.05L285.31 380.80L287.23 380.52L289.15 380.20L291.07 379.83L292.99 379.41L294.91 378.94L296.82 378.39L298.74 377.77L300.66 377.06L302.58 376.25L304.50 375.33L306.42 374.28L308.34 373.08L310.25 371.71L312.17 370.15L314.09 368.37L316.01 366.34L317.93 364.02L319.85 361.38L321.77 358.36L323.69 354.94L325.60 351.25L327.52 347.35L329.44 343.27L331.36 339.05L333.28 334.76L335.20 330.46L337.12 326.21L339.03 322.08L340.95 318.16L342.87 314.51L344.79 311.20L346.71 308.32L348.63 305.91L350.55 304.04L352.47 302.74L354.38 302.04L356.30 301.96L358.22 302.51L360.14 303.66L362.06 305.40L363.98 307.68L365.90 310.46L367.82 313.67L369.73 317.24L371.65 321.10L373.57 325.19L375.49 329.42L377.41 333.71L379.33 338.01L381.25 342.25L383.16 346.37L385.08 350.32L387.00 354.06L388.92 357.56L390.84 360.68L392.76 363.41L394.68 365.80L396.60 367.90L398.51 369.74L400.43 371.35L402.35 372.76L404.27 374.00L406.19 375.09L408.11 376.04L410.03 376.88L411.94 377.61L413.86 378.25L415.78 378.81L417.70 379.30L419.62 379.73L421.54 380.11L423.46 380.44L425.38 380.74L427.29 380.99L429.21 381.21L431.13 381.41L433.05 381.58L434.97 381.73L436.89 381.86L438.81 381.98L440.73 382.08L442.64 382.17L444.56 382.25L446.48 382.32L448.40 382.38" stroke="#00ffff" stroke-width="2.35" fill="none" stroke-linejoin="round"/>
</g>
<rect x="258.45" y="276.40" width="189.95" height="106.40" fill="none" stroke="#444" stroke-width="0.8"/>
<path d="M258.45 382.80v2.3M290.11 382.80v2.3M321.77 382.80v2.3M353.42 382.80v2.3M385.08 382.80v2.3M416.74 382.80v2.3M448.40 382.80v2.3M258.45 382.80h-2.3M258.45 368.26h-2.3M258.45 353.73h-2.3M258.45 339.19h-2.3M258.45 324.66h-2.3M258.45 310.12h-2.3M258.45 295.59h-2.3M258.45 281.05h-2.3" stroke="#333" stroke-width="0.7" fill="none"/>
<g font-size="6.4" fill="#000" stroke="#000" stroke-width="0.18">
<text transform="translate(257.65 392.30) scale(1.113 1)" text-anchor="middle">-3</text>
<text transform="translate(289.31 392.30) scale(1.113 1)" text-anchor="middle">-2</text>
<text transform="translate(320.97 392.30) scale(1.113 1)" text-anchor="middle">-1</text>
<text transform="translate(353.42 392.30) scale(1.113 1)" text-anchor="middle">0</text>
<text transform="translate(385.08 392.30) scale(1.113 1)" text-anchor="middle">1</text>
<text transform="translate(416.74 392.30) scale(1.113 1)" text-anchor="middle">2</text>
<text transform="translate(448.40 392.30) scale(1.113 1)" text-anchor="middle">3</text>
<text transform="translate(253.45 385.10) scale(1.113 1)" text-anchor="end">0.0</text>
<text transform="translate(253.45 370.56) scale(1.113 1)" text-anchor="end">0.1</text>
<text transform="translate(253.45 356.03) scale(1.113 1)" text-anchor="end">0.2</text>
<text transform="translate(253.45 341.49) scale(1.113 1)" text-anchor="end">0.3</text>
<text transform="translate(253.45 326.96) scale(1.113 1)" text-anchor="end">0.4</text>
<text transform="translate(253.45 312.42) scale(1.113 1)" text-anchor="end">0.5</text>
<text transform="translate(253.45 297.89) scale(1.113 1)" text-anchor="end">0.6</text>
<text transform="translate(253.45 283.35) scale(1.113 1)" text-anchor="end">0.7</text>
</g>
<text transform="translate(240.05 329.60) rotate(-90) scale(1.113 1)" font-size="6.4" text-anchor="middle" fill="#000" stroke="#000" stroke-width="0.18">Z</text>
<text x="353.42" y="400.80" font-size="7" font-style="italic" text-anchor="middle" fill="#000" stroke="#000" stroke-width="0.18">ε</text>
<rect x="386.40" y="279.70" width="58.80" height="19.00" rx="1.3" fill="#fff" fill-opacity="0.8" stroke="#d4d4d4" stroke-width="0.6"/>
<path d="M388.50 289.50h14.6" stroke="#00ffff" stroke-width="2.35"/>
<g font-size="6.4" fill="#000" stroke="#000" stroke-width="0.18" transform="translate(406.80 287.10) scale(1.113 1)"><text font-style="italic">μ</text><text x="4.7" y="-2.3" font-size="4.4">*</text><text x="8.6">=</text><text x="14.0">0.068</text></g>
<g font-size="6.4" fill="#000" stroke="#000" stroke-width="0.18" transform="translate(406.80 294.80) scale(1.113 1)"><text font-style="italic">σ</text><text x="4.7" y="-2.3" font-size="4.4">*</text><text x="8.6">=</text><text x="14.0">0.69</text></g>
<clipPath id="c6"><rect x="258.45" y="409.70" width="189.95" height="106.70"/></clipPath>
<g clip-path="url(#c6)">
<path d="M287.34 516.40h2.37V512.29h-2.37zM309.50 516.40h2.37V512.39h-2.37zM312.66 516.40h2.37V507.46h-2.37zM319.00 516.40h2.37V507.46h-2.37zM322.16 516.40h2.37V512.19h-2.37zM325.33 516.40h2.37V504.78h-2.37zM328.49 516.40h2.37V500.36h-2.37zM331.66 516.40h2.37V494.20h-2.37zM334.83 516.40h2.37V485.66h-2.37zM337.99 516.40h2.37V479.81h-2.37zM341.16 516.40h2.37V474.97h-2.37zM344.32 516.40h2.37V423.99h-2.37zM347.49 516.40h2.37V437.97h-2.37zM350.65 516.40h2.37V470.25h-2.37zM353.82 516.40h2.37V437.97h-2.37zM356.99 516.40h2.37V447.22h-2.37zM360.15 516.40h2.37V428.72h-2.37zM363.32 516.40h2.37V414.74h-2.37zM366.48 516.40h2.37V452.67h-2.37zM369.65 516.40h2.37V484.23h-2.37zM372.82 516.40h2.37V470.25h-2.37zM375.98 516.40h2.37V479.81h-2.37zM379.15 516.40h2.37V498.21h-2.37zM382.31 516.40h2.37V512.19h-2.37zM385.48 516.40h2.37V488.95h-2.37zM388.64 516.40h2.37V507.46h-2.37zM391.81 516.40h2.37V512.19h-2.37zM394.98 516.40h2.37V507.46h-2.37zM398.14 516.40h2.37V512.60h-2.37zM410.81 516.40h2.37V512.29h-2.37zM413.97 516.40h2.37V512.29h-2.37zM417.14 516.40h2.37V512.29h-2.37z" fill="#ff6361"/>
<path d="M290.11 409.70V516.40M321.77 409.70V516.40M353.42 409.70V516.40M385.08 409.70V516.40M416.74 409.70V516.40M258.45 495.84H448.40M258.45 475.28H448.40M258.45 454.72H448.40M258.45 434.16H448.40M258.45 413.61H448.40" stroke="#a8a8a8" stroke-opacity="0.23" stroke-width="0.55" fill="none"/>
<path d="M258.45 516.38L260.37 516.38L262.29 516.38L264.21 516.37L266.12 516.37L268.04 516.36L269.96 516.35L271.88 516.34L273.80 516.33L275.72 516.32L277.64 516.30L279.56 516.28L281.47 516.25L283.39 516.22L285.31 516.18L287.23 516.14L289.15 516.08L291.07 516.02L292.99 515.94L294.91 515.84L296.82 515.73L298.74 515.58L300.66 515.41L302.58 515.21L304.50 514.96L306.42 514.66L308.34 514.30L310.25 513.86L312.17 513.33L314.09 512.69L316.01 511.92L317.93 510.98L319.85 509.85L321.77 508.48L323.69 506.83L325.60 504.84L327.52 502.43L329.44 499.52L331.36 496.00L333.28 491.74L335.20 486.68L337.12 481.10L339.03 475.13L340.95 468.91L342.87 462.62L344.79 456.47L346.71 450.66L348.63 445.44L350.55 441.01L352.47 437.57L354.38 435.28L356.30 434.24L358.22 434.50L360.14 436.05L362.06 438.82L363.98 442.68L365.90 447.46L367.82 452.95L369.73 458.92L371.65 465.15L373.57 471.44L375.49 477.57L377.41 483.40L379.33 488.80L381.25 493.55L383.16 497.49L385.08 500.76L387.00 503.46L388.92 505.69L390.84 507.54L392.76 509.07L394.68 510.33L396.60 511.38L398.51 512.25L400.43 512.96L402.35 513.56L404.27 514.05L406.19 514.45L408.11 514.79L410.03 515.07L411.94 515.30L413.86 515.49L415.78 515.64L417.70 515.77L419.62 515.88L421.54 515.97L423.46 516.05L425.38 516.11L427.29 516.16L429.21 516.20L431.13 516.23L433.05 516.26L434.97 516.29L436.89 516.31L438.81 516.32L440.73 516.34L442.64 516.35L444.56 516.36L446.48 516.36L448.40 516.37" stroke="#00ffff" stroke-width="2.35" fill="none" stroke-linejoin="round"/>
</g>
<rect x="258.45" y="409.70" width="189.95" height="106.70" fill="none" stroke="#444" stroke-width="0.8"/>
<path d="M258.45 516.40v2.3M290.11 516.40v2.3M321.77 516.40v2.3M353.42 516.40v2.3M385.08 516.40v2.3M416.74 516.40v2.3M448.40 516.40v2.3M258.45 516.40h-2.3M258.45 495.84h-2.3M258.45 475.28h-2.3M258.45 454.72h-2.3M258.45 434.16h-2.3M258.45 413.61h-2.3" stroke="#333" stroke-width="0.7" fill="none"/>
<g font-size="6.4" fill="#000" stroke="#000" stroke-width="0.18">
<text transform="translate(257.65 525.90) scale(1.113 1)" text-anchor="middle">-3</text>
<text transform="translate(289.31 525.90) scale(1.113 1)" text-anchor="middle">-2</text>
<text transform="translate(320.97 525.90) scale(1.113 1)" text-anchor="middle">-1</text>
<text transform="translate(353.42 525.90) scale(1.113 1)" text-anchor="middle">0</text>
<text transform="translate(385.08 525.90) scale(1.113 1)" text-anchor="middle">1</text>
<text transform="translate(416.74 525.90) scale(1.113 1)" text-anchor="middle">2</text>
<text transform="translate(448.40 525.90) scale(1.113 1)" text-anchor="middle">3</text>
<text transform="translate(253.45 518.70) scale(1.113 1)" text-anchor="end">0.0</text>
<text transform="translate(253.45 498.14) scale(1.113 1)" text-anchor="end">0.2</text>
<text transform="translate(253.45 477.58) scale(1.113 1)" text-anchor="end">0.4</text>
<text transform="translate(253.45 457.02) scale(1.113 1)" text-anchor="end">0.6</text>
<text transform="translate(253.45 436.46) scale(1.113 1)" text-anchor="end">0.8</text>
<text transform="translate(253.45 415.91) scale(1.113 1)" text-anchor="end">1.0</text>
</g>
<text transform="translate(240.05 463.05) rotate(-90) scale(1.113 1)" font-size="6.4" text-anchor="middle" fill="#000" stroke="#000" stroke-width="0.18">F</text>
<text x="353.42" y="534.40" font-size="7" font-style="italic" text-anchor="middle" fill="#000" stroke="#000" stroke-width="0.18">ε</text>
<rect x="386.40" y="413.00" width="58.80" height="19.00" rx="1.3" fill="#fff" fill-opacity="0.8" stroke="#d4d4d4" stroke-width="0.6"/>
<path d="M388.50 422.80h14.6" stroke="#00ffff" stroke-width="2.35"/>
<g font-size="6.4" fill="#000" stroke="#000" stroke-width="0.18" transform="translate(406.80 420.40) scale(1.113 1)"><text font-style="italic">μ</text><text x="4.7" y="-2.3" font-size="4.4">*</text><text x="8.6">=</text><text x="14.0">0.109</text></g>
<g font-size="6.4" fill="#000" stroke="#000" stroke-width="0.18" transform="translate(406.80 428.10) scale(1.113 1)"><text font-style="italic">σ</text><text x="4.7" y="-2.3" font-size="4.4">*</text><text x="8.6">=</text><text x="14.0">0.48</text></g>
<clipPath id="c7"><rect x="497.15" y="9.65" width="186.45" height="106.85"/></clipPath>
<g clip-path="url(#c7)">
<path d="M513.08 116.50h2.33V115.63h-2.33zM522.40 116.50h2.33V114.77h-2.33zM534.83 116.50h2.33V116.07h-2.33zM544.15 116.50h2.33V116.07h-2.33zM547.26 116.50h2.33V112.52h-2.33zM550.37 116.50h2.33V113.30h-2.33zM553.47 116.50h2.33V114.42h-2.33zM556.58 116.50h2.33V110.36h-2.33zM559.69 116.50h2.33V105.69h-2.33zM562.80 116.50h2.33V103.78h-2.33zM565.90 116.50h2.33V96.95h-2.33zM569.01 116.50h2.33V94.61h-2.33zM572.12 116.50h2.33V92.79h-2.33zM575.23 116.50h2.33V69.17h-2.33zM578.33 116.50h2.33V65.80h-2.33zM581.44 116.50h2.33V40.19h-2.33zM584.55 116.50h2.33V24.10h-2.33zM587.66 116.50h2.33V15.36h-2.33zM590.76 116.50h2.33V22.37h-2.33zM593.87 116.50h2.33V47.54h-2.33zM596.98 116.50h2.33V75.32h-2.33zM600.09 116.50h2.33V87.00h-2.33zM603.19 116.50h2.33V89.94h-2.33zM606.30 116.50h2.33V100.84h-2.33zM609.41 116.50h2.33V105.94h-2.33zM612.52 116.50h2.33V106.72h-2.33zM615.62 116.50h2.33V110.62h-2.33zM618.73 116.50h2.33V113.56h-2.33zM621.84 116.50h2.33V113.90h-2.33zM624.95 116.50h2.33V113.56h-2.33zM628.05 116.50h2.33V113.47h-2.33zM631.16 116.50h2.33V114.34h-2.33zM634.27 116.50h2.33V115.03h-2.33zM637.38 116.50h2.33V114.77h-2.33zM640.48 116.50h2.33V114.77h-2.33zM643.59 116.50h2.33V113.47h-2.33zM646.70 116.50h2.33V113.90h-2.33zM649.81 116.50h2.33V113.47h-2.33zM652.91 116.50h2.33V114.34h-2.33zM656.02 116.50h2.33V116.07h-2.33zM659.13 116.50h2.33V116.07h-2.33z" fill="#003f5c"/>
<path d="M528.23 9.65V116.50M559.30 9.65V116.50M590.38 9.65V116.50M621.45 9.65V116.50M652.52 9.65V116.50M497.15 99.20H683.60M497.15 81.89H683.60M497.15 64.59H683.60M497.15 47.29H683.60M497.15 29.98H683.60M497.15 12.68H683.60" stroke="#a8a8a8" stroke-opacity="0.23" stroke-width="0.55" fill="none"/>
<path d="M497.15 116.50L499.03 116.50L500.92 116.50L502.80 116.50L504.68 116.50L506.57 116.50L508.45 116.49L510.33 116.49L512.22 116.49L514.10 116.49L515.98 116.49L517.87 116.48L519.75 116.48L521.63 116.47L523.52 116.46L525.40 116.45L527.28 116.43L529.17 116.41L531.05 116.39L532.93 116.35L534.82 116.31L536.70 116.25L538.58 116.18L540.47 116.08L542.35 115.96L544.23 115.80L546.12 115.59L548.00 115.32L549.88 114.97L551.77 114.52L553.65 113.93L555.53 113.17L557.42 112.18L559.30 110.90L561.18 109.24L563.07 107.09L564.95 104.30L566.83 100.68L568.72 95.99L570.60 89.91L572.48 82.12L574.37 73.15L576.25 63.46L578.13 53.51L580.02 43.92L581.90 35.33L583.78 28.41L585.67 23.72L587.55 21.67L589.43 22.43L591.32 25.95L593.20 31.91L595.08 39.81L596.97 49.03L598.85 58.89L600.73 68.76L602.62 78.12L604.50 86.54L606.38 93.39L608.27 98.68L610.15 102.76L612.03 105.90L613.92 108.32L615.80 110.19L617.68 111.64L619.57 112.75L621.45 113.61L623.33 114.27L625.22 114.78L627.10 115.17L628.98 115.48L630.87 115.71L632.75 115.89L634.63 116.03L636.52 116.14L638.40 116.22L640.28 116.28L642.17 116.33L644.05 116.37L645.93 116.40L647.82 116.42L649.70 116.44L651.58 116.45L653.47 116.47L655.35 116.47L657.23 116.48L659.12 116.48L661.00 116.49L662.88 116.49L664.77 116.49L666.65 116.49L668.53 116.50L670.42 116.50L672.30 116.50L674.18 116.50L676.07 116.50L677.95 116.50L679.83 116.50L681.72 116.50L683.60 116.50" stroke="#00ffff" stroke-width="2.35" fill="none" stroke-linejoin="round"/>
</g>
<rect x="497.15" y="9.65" width="186.45" height="106.85" fill="none" stroke="#444" stroke-width="0.8"/>
<path d="M497.15 116.50v2.3M528.23 116.50v2.3M559.30 116.50v2.3M590.38 116.50v2.3M621.45 116.50v2.3M652.52 116.50v2.3M683.60 116.50v2.3M497.15 116.50h-2.3M497.15 99.20h-2.3M497.15 81.89h-2.3M497.15 64.59h-2.3M497.15 47.29h-2.3M497.15 29.98h-2.3M497.15 12.68h-2.3" stroke="#333" stroke-width="0.7" fill="none"/>
<g font-size="6.4" fill="#000" stroke="#000" stroke-width="0.18">
<text transform="translate(496.35 126.00) scale(1.113 1)" text-anchor="middle">-3</text>
<text transform="translate(527.43 126.00) scale(1.113 1)" text-anchor="middle">-2</text>
<text transform="translate(558.50 126.00) scale(1.113 1)" text-anchor="middle">-1</text>
<text transform="translate(590.38 126.00) scale(1.113 1)" text-anchor="middle">0</text>
<text transform="translate(621.45 126.00) scale(1.113 1)" text-anchor="middle">1</text>
<text transform="translate(652.52 126.00) scale(1.113 1)" text-anchor="middle">2</text>
<text transform="translate(683.60 126.00) scale(1.113 1)" text-anchor="middle">3</text>
<text transform="translate(492.15 118.80) scale(1.113 1)" text-anchor="end">0.0</text>
<text transform="translate(492.15 101.50) scale(1.113 1)" text-anchor="end">0.2</text>
<text transform="translate(492.15 84.19) scale(1.113 1)" text-anchor="end">0.4</text>
<text transform="translate(492.15 66.89) scale(1.113 1)" text-anchor="end">0.6</text>
<text transform="translate(492.15 49.59) scale(1.113 1)" text-anchor="end">0.8</text>
<text transform="translate(492.15 32.28) scale(1.113 1)" text-anchor="end">1.0</text>
<text transform="translate(492.15 14.98) scale(1.113 1)" text-anchor="end">1.2</text>
</g>
<text transform="translate(478.75 63.08) rotate(-90) scale(1.113 1)" font-size="6.4" text-anchor="middle" fill="#000" stroke="#000" stroke-width="0.18">X</text>
<text x="590.38" y="134.50" font-size="7" font-style="italic" text-anchor="middle" fill="#000" stroke="#000" stroke-width="0.18">ε</text>
<text transform="translate(590.38 5.55) scale(0.965 1)" font-size="8" text-anchor="middle" fill="#000" stroke="#000" stroke-width="0.18">VO CHAMP (MF)</text>
<rect x="618.80" y="12.95" width="61.60" height="19.00" rx="1.3" fill="#fff" fill-opacity="0.8" stroke="#d4d4d4" stroke-width="0.6"/>
<path d="M620.90 22.75h14.6" stroke="#00ffff" stroke-width="2.35"/>
<g font-size="6.4" fill="#000" stroke="#000" stroke-width="0.18" transform="translate(639.20 20.35) scale(1.113 1)"><text font-style="italic">μ</text><text x="4.7" y="-2.3" font-size="4.4">*</text><text x="8.6">=</text><text x="14.0">-0.077</text></g>
<g font-size="6.4" fill="#000" stroke="#000" stroke-width="0.18" transform="translate(639.20 28.05) scale(1.113 1)"><text font-style="italic">σ</text><text x="4.7" y="-2.3" font-size="4.4">*</text><text x="8.6">=</text><text x="14.0">0.35</text></g>
<clipPath id="c8"><rect x="497.15" y="143.20" width="186.45" height="106.30"/></clipPath>
<g clip-path="url(#c8)">
<path d="M519.29 249.50h2.33V249.00h-2.33zM525.51 249.50h2.33V247.99h-2.33zM528.61 249.50h2.33V247.99h-2.33zM531.72 249.50h2.33V249.00h-2.33zM534.83 249.50h2.33V249.00h-2.33zM537.94 249.50h2.33V246.48h-2.33zM541.04 249.50h2.33V247.49h-2.33zM544.15 249.50h2.33V245.98h-2.33zM547.26 249.50h2.33V244.47h-2.33zM550.37 249.50h2.33V244.77h-2.33zM553.47 249.50h2.33V242.76h-2.33zM556.58 249.50h2.33V239.44h-2.33zM559.69 249.50h2.33V244.17h-2.33zM562.80 249.50h2.33V235.72h-2.33zM565.90 249.50h2.33V234.31h-2.33zM569.01 249.50h2.33V231.80h-2.33zM572.12 249.50h2.33V221.24h-2.33zM575.23 249.50h2.33V211.49h-2.33zM578.33 249.50h2.33V198.41h-2.33zM581.44 249.50h2.33V182.42h-2.33zM584.55 249.50h2.33V160.90h-2.33zM587.66 249.50h2.33V153.66h-2.33zM590.76 249.50h2.33V148.93h-2.33zM593.87 249.50h2.33V163.82h-2.33zM596.98 249.50h2.33V184.63h-2.33zM600.09 249.50h2.33V195.39h-2.33zM603.19 249.50h2.33V209.57h-2.33zM606.30 249.50h2.33V220.54h-2.33zM609.41 249.50h2.33V218.02h-2.33zM612.52 249.50h2.33V231.40h-2.33zM615.62 249.50h2.33V237.23h-2.33zM618.73 249.50h2.33V238.64h-2.33zM621.84 249.50h2.33V241.25h-2.33zM624.95 249.50h2.33V241.86h-2.33zM628.05 249.50h2.33V242.76h-2.33zM631.16 249.50h2.33V245.68h-2.33zM634.27 249.50h2.33V246.18h-2.33zM637.38 249.50h2.33V246.18h-2.33zM640.48 249.50h2.33V246.48h-2.33zM643.59 249.50h2.33V249.00h-2.33zM646.70 249.50h2.33V249.00h-2.33zM649.81 249.50h2.33V249.20h-2.33zM659.13 249.50h2.33V248.70h-2.33zM662.24 249.50h2.33V248.70h-2.33z" fill="#58508d"/>
<path d="M528.23 143.20V249.50M559.30 143.20V249.50M590.38 143.20V249.50M621.45 143.20V249.50M652.52 143.20V249.50M497.15 229.39H683.60M497.15 209.27H683.60M497.15 189.16H683.60M497.15 169.05H683.60M497.15 148.93H683.60" stroke="#a8a8a8" stroke-opacity="0.23" stroke-width="0.55" fill="none"/>
<path d="M497.15 249.50L499.03 249.49L500.92 249.49L502.80 249.49L504.68 249.49L506.57 249.49L508.45 249.48L510.33 249.48L512.22 249.47L514.10 249.46L515.98 249.46L517.87 249.45L519.75 249.43L521.63 249.41L523.52 249.39L525.40 249.37L527.28 249.33L529.17 249.29L531.05 249.24L532.93 249.18L534.82 249.10L536.70 249.00L538.58 248.87L540.47 248.72L542.35 248.52L544.23 248.28L546.12 247.98L548.00 247.60L549.88 247.13L551.77 246.54L553.65 245.81L555.53 244.89L557.42 243.75L559.30 242.32L561.18 240.54L563.07 238.31L564.95 235.53L566.83 232.07L568.72 227.74L570.60 222.34L572.48 215.68L574.37 208.16L576.25 200.07L578.13 191.67L580.02 183.31L581.90 175.38L583.78 168.29L585.67 162.44L587.55 158.19L589.43 155.80L591.32 155.43L593.20 157.10L595.08 160.70L596.97 166.00L598.85 172.68L600.73 180.36L602.62 188.62L604.50 197.04L606.38 205.28L608.27 213.03L610.15 220.06L612.03 225.92L613.92 230.61L615.80 234.36L617.68 237.37L619.57 239.79L621.45 241.72L623.33 243.27L625.22 244.51L627.10 245.50L628.98 246.29L630.87 246.93L632.75 247.44L634.63 247.85L636.52 248.18L638.40 248.44L640.28 248.65L642.17 248.82L644.05 248.96L645.93 249.06L647.82 249.15L649.70 249.22L651.58 249.28L653.47 249.32L655.35 249.36L657.23 249.38L659.12 249.41L661.00 249.43L662.88 249.44L664.77 249.45L666.65 249.46L668.53 249.47L670.42 249.48L672.30 249.48L674.18 249.48L676.07 249.49L677.95 249.49L679.83 249.49L681.72 249.49L683.60 249.49" stroke="#00ffff" stroke-width="2.35" fill="none" stroke-linejoin="round"/>
</g>
<rect x="497.15" y="143.20" width="186.45" height="106.30" fill="none" stroke="#444" stroke-width="0.8"/>
<path d="M497.15 249.50v2.3M528.23 249.50v2.3M559.30 249.50v2.3M590.38 249.50v2.3M621.45 249.50v2.3M652.52 249.50v2.3M683.60 249.50v2.3M497.15 249.50h-2.3M497.15 229.39h-2.3M497.15 209.27h-2.3M497.15 189.16h-2.3M497.15 169.05h-2.3M497.15 148.93h-2.3" stroke="#333" stroke-width="0.7" fill="none"/>
<g font-size="6.4" fill="#000" stroke="#000" stroke-width="0.18">
<text transform="translate(496.35 259.00) scale(1.113 1)" text-anchor="middle">-3</text>
<text transform="translate(527.43 259.00) scale(1.113 1)" text-anchor="middle">-2</text>
<text transform="translate(558.50 259.00) scale(1.113 1)" text-anchor="middle">-1</text>
<text transform="translate(590.38 259.00) scale(1.113 1)" text-anchor="middle">0</text>
<text transform="translate(621.45 259.00) scale(1.113 1)" text-anchor="middle">1</text>
<text transform="translate(652.52 259.00) scale(1.113 1)" text-anchor="middle">2</text>
<text transform="translate(683.60 259.00) scale(1.113 1)" text-anchor="middle">3</text>
<text transform="translate(492.15 251.80) scale(1.113 1)" text-anchor="end">0.0</text>
<text transform="translate(492.15 231.69) scale(1.113 1)" text-anchor="end">0.2</text>
<text transform="translate(492.15 211.57) scale(1.113 1)" text-anchor="end">0.4</text>
<text transform="translate(492.15 191.46) scale(1.113 1)" text-anchor="end">0.6</text>
<text transform="translate(492.15 171.35) scale(1.113 1)" text-anchor="end">0.8</text>
<text transform="translate(492.15 151.23) scale(1.113 1)" text-anchor="end">1.0</text>
</g>
<text transform="translate(478.75 196.35) rotate(-90) scale(1.113 1)" font-size="6.4" text-anchor="middle" fill="#000" stroke="#000" stroke-width="0.18">Y</text>
<text x="590.38" y="267.50" font-size="7" font-style="italic" text-anchor="middle" fill="#000" stroke="#000" stroke-width="0.18">ε</text>
<rect x="621.60" y="146.50" width="58.80" height="19.00" rx="1.3" fill="#fff" fill-opacity="0.8" stroke="#d4d4d4" stroke-width="0.6"/>
<path d="M623.70 156.30h14.6" stroke="#00ffff" stroke-width="2.35"/>
<g font-size="6.4" fill="#000" stroke="#000" stroke-width="0.18" transform="translate(642.00 153.90) scale(1.113 1)"><text font-style="italic">μ</text><text x="4.7" y="-2.3" font-size="4.4">*</text><text x="8.6">=</text><text x="14.0">0.011</text></g>
<g font-size="6.4" fill="#000" stroke="#000" stroke-width="0.18" transform="translate(642.00 161.60) scale(1.113 1)"><text font-style="italic">σ</text><text x="4.7" y="-2.3" font-size="4.4">*</text><text x="8.6">=</text><text x="14.0">0.41</text></g>
<clipPath id="c9"><rect x="497.15" y="276.40" width="186.45" height="106.40"/></clipPath>
<g clip-path="url(#c9)">
<path d="M516.18 382.80h2.33V380.36h-2.33zM519.29 382.80h2.33V381.58h-2.33zM525.51 382.80h2.33V381.58h-2.33zM528.61 382.80h2.33V382.43h-2.33zM531.72 382.80h2.33V382.43h-2.33zM534.83 382.80h2.33V381.58h-2.33zM537.94 382.80h2.33V380.36h-2.33zM541.04 382.80h2.33V379.63h-2.33zM544.15 382.80h2.33V377.69h-2.33zM547.26 382.80h2.33V375.61h-2.33zM550.37 382.80h2.33V376.71h-2.33zM553.47 382.80h2.33V373.06h-2.33zM556.58 382.80h2.33V370.87h-2.33zM559.69 382.80h2.33V371.84h-2.33zM562.80 382.80h2.33V365.02h-2.33zM565.90 382.80h2.33V358.44h-2.33zM569.01 382.80h2.33V355.76h-2.33zM572.12 382.80h2.33V340.18h-2.33zM575.23 382.80h2.33V333.23h-2.33zM578.33 382.80h2.33V321.91h-2.33zM581.44 382.80h2.33V305.22h-2.33zM584.55 382.80h2.33V283.67h-2.33zM587.66 382.80h2.33V289.15h-2.33zM590.76 382.80h2.33V281.84h-2.33zM593.87 382.80h2.33V295.48h-2.33zM596.98 382.80h2.33V307.05h-2.33zM600.09 382.80h2.33V315.82h-2.33zM603.19 382.80h2.33V325.68h-2.33zM606.30 382.80h2.33V339.20h-2.33zM609.41 382.80h2.33V350.89h-2.33zM612.52 382.80h2.33V355.52h-2.33zM615.62 382.80h2.33V361.37h-2.33zM618.73 382.80h2.33V368.92h-2.33zM621.84 382.80h2.33V371.60h-2.33zM624.95 382.80h2.33V374.76h-2.33zM628.05 382.80h2.33V373.79h-2.33zM631.16 382.80h2.33V376.22h-2.33zM634.27 382.80h2.33V378.54h-2.33zM637.38 382.80h2.33V379.63h-2.33zM640.48 382.80h2.33V379.15h-2.33zM643.59 382.80h2.33V379.15h-2.33zM646.70 382.80h2.33V380.97h-2.33zM649.81 382.80h2.33V381.58h-2.33zM652.91 382.80h2.33V382.43h-2.33zM659.13 382.80h2.33V380.97h-2.33zM668.45 382.80h2.33V381.58h-2.33z" fill="#bc5090"/>
<path d="M528.23 276.40V382.80M559.30 276.40V382.80M590.38 276.40V382.80M621.45 276.40V382.80M652.52 276.40V382.80M497.15 358.74H683.60M497.15 334.69H683.60M497.15 310.63H683.60M497.15 286.58H683.60" stroke="#a8a8a8" stroke-opacity="0.23" stroke-width="0.55" fill="none"/>
<path d="M497.15 382.77L499.03 382.77L500.92 382.76L502.80 382.75L504.68 382.74L506.57 382.73L508.45 382.72L510.33 382.70L512.22 382.68L514.10 382.66L515.98 382.63L517.87 382.59L519.75 382.55L521.63 382.49L523.52 382.43L525.40 382.36L527.28 382.26L529.17 382.15L531.05 382.02L532.93 381.86L534.82 381.67L536.70 381.44L538.58 381.15L540.47 380.82L542.35 380.41L544.23 379.92L546.12 379.32L548.00 378.61L549.88 377.75L551.77 376.71L553.65 375.45L555.53 373.94L557.42 372.12L559.30 369.92L561.18 367.27L563.07 364.08L564.95 360.23L566.83 355.58L568.72 350.01L570.60 343.77L572.48 337.07L574.37 330.04L576.25 322.86L578.13 315.76L580.02 308.98L581.90 302.76L583.78 297.36L585.67 293.01L587.55 289.89L589.43 288.14L591.32 287.85L593.20 289.02L595.08 291.61L596.97 295.50L598.85 300.51L600.73 306.44L602.62 313.02L604.50 320.03L606.38 327.20L608.27 334.31L610.15 341.17L612.03 347.61L613.92 353.49L615.80 358.49L617.68 362.64L619.57 366.08L621.45 368.93L623.33 371.30L625.22 373.26L627.10 374.89L628.98 376.24L630.87 377.36L632.75 378.29L634.63 379.06L636.52 379.69L638.40 380.22L640.28 380.66L642.17 381.03L644.05 381.33L645.93 381.58L647.82 381.79L649.70 381.96L651.58 382.10L653.47 382.22L655.35 382.32L657.23 382.40L659.12 382.47L661.00 382.53L662.88 382.57L664.77 382.61L666.65 382.64L668.53 382.67L670.42 382.69L672.30 382.71L674.18 382.73L676.07 382.74L677.95 382.75L679.83 382.76L681.72 382.77L683.60 382.77" stroke="#00ffff" stroke-width="2.35" fill="none" stroke-linejoin="round"/>
</g>
<rect x="497.15" y="276.40" width="186.45" height="106.40" fill="none" stroke="#444" stroke-width="0.8"/>
<path d="M497.15 382.80v2.3M528.23 382.80v2.3M559.30 382.80v2.3M590.38 382.80v2.3M621.45 382.80v2.3M652.52 382.80v2.3M683.60 382.80v2.3M497.15 382.80h-2.3M497.15 358.74h-2.3M497.15 334.69h-2.3M497.15 310.63h-2.3M497.15 286.58h-2.3" stroke="#333" stroke-width="0.7" fill="none"/>
<g font-size="6.4" fill="#000" stroke="#000" stroke-width="0.18">
<text transform="translate(496.35 392.30) scale(1.113 1)" text-anchor="middle">-3</text>
<text transform="translate(527.43 392.30) scale(1.113 1)" text-anchor="middle">-2</text>
<text transform="translate(558.50 392.30) scale(1.113 1)" text-anchor="middle">-1</text>
<text transform="translate(590.38 392.30) scale(1.113 1)" text-anchor="middle">0</text>
<text transform="translate(621.45 392.30) scale(1.113 1)" text-anchor="middle">1</text>
<text transform="translate(652.52 392.30) scale(1.113 1)" text-anchor="middle">2</text>
<text transform="translate(683.60 392.30) scale(1.113 1)" text-anchor="middle">3</text>
<text transform="translate(492.15 385.10) scale(1.113 1)" text-anchor="end">0.0</text>
<text transform="translate(492.15 361.04) scale(1.113 1)" text-anchor="end">0.2</text>
<text transform="translate(492.15 336.99) scale(1.113 1)" text-anchor="end">0.4</text>
<text transform="translate(492.15 312.93) scale(1.113 1)" text-anchor="end">0.6</text>
<text transform="translate(492.15 288.88) scale(1.113 1)" text-anchor="end">0.8</text>
</g>
<text transform="translate(478.75 329.60) rotate(-90) scale(1.113 1)" font-size="6.4" text-anchor="middle" fill="#000" stroke="#000" stroke-width="0.18">Z</text>
<text x="590.38" y="400.80" font-size="7" font-style="italic" text-anchor="middle" fill="#000" stroke="#000" stroke-width="0.18">ε</text>
<rect x="621.60" y="279.70" width="58.80" height="19.00" rx="1.3" fill="#fff" fill-opacity="0.8" stroke="#d4d4d4" stroke-width="0.6"/>
<path d="M623.70 289.50h14.6" stroke="#00ffff" stroke-width="2.35"/>
<g font-size="6.4" fill="#000" stroke="#000" stroke-width="0.18" transform="translate(642.00 287.10) scale(1.113 1)"><text font-style="italic">μ</text><text x="4.7" y="-2.3" font-size="4.4">*</text><text x="8.6">=</text><text x="14.0">0.012</text></g>
<g font-size="6.4" fill="#000" stroke="#000" stroke-width="0.18" transform="translate(642.00 294.80) scale(1.113 1)"><text font-style="italic">σ</text><text x="4.7" y="-2.3" font-size="4.4">*</text><text x="8.6">=</text><text x="14.0">0.48</text></g>
<clipPath id="c10"><rect x="497.15" y="409.70" width="186.45" height="106.70"/></clipPath>
<g clip-path="url(#c10)">
<path d="M556.58 516.40h2.33V509.22h-2.33zM559.69 516.40h2.33V510.72h-2.33zM562.80 516.40h2.33V512.98h-2.33zM565.90 516.40h2.33V509.97h-2.33zM569.01 516.40h2.33V507.51h-2.33zM572.12 516.40h2.33V490.48h-2.33zM575.23 516.40h2.33V490.48h-2.33zM578.33 516.40h2.33V459.49h-2.33zM581.44 516.40h2.33V457.71h-2.33zM584.55 516.40h2.33V424.68h-2.33zM587.66 516.40h2.33V415.31h-2.33zM590.76 516.40h2.33V440.21h-2.33zM593.87 516.40h2.33V447.80h-2.33zM596.98 516.40h2.33V461.00h-2.33zM600.09 516.40h2.33V487.26h-2.33zM603.19 516.40h2.33V493.42h-2.33zM606.30 516.40h2.33V512.16h-2.33zM612.52 516.40h2.33V513.66h-2.33zM615.62 516.40h2.33V514.35h-2.33zM618.73 516.40h2.33V513.32h-2.33z" fill="#ff6361"/>
<path d="M528.23 409.70V516.40M559.30 409.70V516.40M590.38 409.70V516.40M621.45 409.70V516.40M652.52 409.70V516.40M497.15 502.72H683.60M497.15 489.04H683.60M497.15 475.36H683.60M497.15 461.68H683.60M497.15 448.00H683.60M497.15 434.32H683.60M497.15 420.64H683.60" stroke="#a8a8a8" stroke-opacity="0.23" stroke-width="0.55" fill="none"/>
<path d="M497.15 516.40L499.03 516.40L500.92 516.40L502.80 516.40L504.68 516.40L506.57 516.40L508.45 516.40L510.33 516.40L512.22 516.40L514.10 516.40L515.98 516.40L517.87 516.40L519.75 516.40L521.63 516.40L523.52 516.40L525.40 516.39L527.28 516.39L529.17 516.39L531.05 516.39L532.93 516.38L534.82 516.37L536.70 516.36L538.58 516.35L540.47 516.33L542.35 516.30L544.23 516.27L546.12 516.22L548.00 516.14L549.88 516.05L551.77 515.91L553.65 515.72L555.53 515.47L557.42 515.11L559.30 514.61L561.18 513.92L563.07 512.97L564.95 511.66L566.83 509.84L568.72 507.33L570.60 503.84L572.48 499.03L574.37 492.37L576.25 483.20L578.13 472.10L580.02 459.99L581.90 447.85L583.78 436.92L585.67 428.47L587.55 423.56L589.43 422.87L591.32 426.48L593.20 433.92L595.08 444.20L596.97 456.09L598.85 468.33L600.73 479.84L602.62 489.76L604.50 497.15L606.38 502.48L608.27 506.34L610.15 509.13L612.03 511.15L613.92 512.60L615.80 513.66L617.68 514.42L619.57 514.97L621.45 515.36L623.33 515.65L625.22 515.86L627.10 516.01L628.98 516.12L630.87 516.20L632.75 516.25L634.63 516.29L636.52 516.32L638.40 516.34L640.28 516.36L642.17 516.37L644.05 516.38L645.93 516.38L647.82 516.39L649.70 516.39L651.58 516.39L653.47 516.40L655.35 516.40L657.23 516.40L659.12 516.40L661.00 516.40L662.88 516.40L664.77 516.40L666.65 516.40L668.53 516.40L670.42 516.40L672.30 516.40L674.18 516.40L676.07 516.40L677.95 516.40L679.83 516.40L681.72 516.40L683.60 516.40" stroke="#00ffff" stroke-width="2.35" fill="none" stroke-linejoin="round"/>
</g>
<rect x="497.15" y="409.70" width="186.45" height="106.70" fill="none" stroke="#444" stroke-width="0.8"/>
<path d="M497.15 516.40v2.3M528.23 516.40v2.3M559.30 516.40v2.3M590.38 516.40v2.3M621.45 516.40v2.3M652.52 516.40v2.3M683.60 516.40v2.3M497.15 516.40h-2.3M497.15 502.72h-2.3M497.15 489.04h-2.3M497.15 475.36h-2.3M497.15 461.68h-2.3M497.15 448.00h-2.3M497.15 434.32h-2.3M497.15 420.64h-2.3" stroke="#333" stroke-width="0.7" fill="none"/>
<g font-size="6.4" fill="#000" stroke="#000" stroke-width="0.18">
<text transform="translate(496.35 525.90) scale(1.113 1)" text-anchor="middle">-3</text>
<text transform="translate(527.43 525.90) scale(1.113 1)" text-anchor="middle">-2</text>
<text transform="translate(558.50 525.90) scale(1.113 1)" text-anchor="middle">-1</text>
<text transform="translate(590.38 525.90) scale(1.113 1)" text-anchor="middle">0</text>
<text transform="translate(621.45 525.90) scale(1.113 1)" text-anchor="middle">1</text>
<text transform="translate(652.52 525.90) scale(1.113 1)" text-anchor="middle">2</text>
<text transform="translate(683.60 525.90) scale(1.113 1)" text-anchor="middle">3</text>
<text transform="translate(492.15 518.70) scale(1.113 1)" text-anchor="end">0.0</text>
<text transform="translate(492.15 505.02) scale(1.113 1)" text-anchor="end">0.2</text>
<text transform="translate(492.15 491.34) scale(1.113 1)" text-anchor="end">0.4</text>
<text transform="translate(492.15 477.66) scale(1.113 1)" text-anchor="end">0.6</text>
<text transform="translate(492.15 463.98) scale(1.113 1)" text-anchor="end">0.8</text>
<text transform="translate(492.15 450.30) scale(1.113 1)" text-anchor="end">1.0</text>
<text transform="translate(492.15 436.62) scale(1.113 1)" text-anchor="end">1.2</text>
<text transform="translate(492.15 422.94) scale(1.113 1)" text-anchor="end">1.4</text>
</g>
<text transform="translate(478.75 463.05) rotate(-90) scale(1.113 1)" font-size="6.4" text-anchor="middle" fill="#000" stroke="#000" stroke-width="0.18">F</text>
<text x="590.38" y="534.40" font-size="7" font-style="italic" text-anchor="middle" fill="#000" stroke="#000" stroke-width="0.18">ε</text>
<rect x="618.80" y="413.00" width="61.60" height="19.00" rx="1.3" fill="#fff" fill-opacity="0.8" stroke="#d4d4d4" stroke-width="0.6"/>
<path d="M620.90 422.80h14.6" stroke="#00ffff" stroke-width="2.35"/>
<g font-size="6.4" fill="#000" stroke="#000" stroke-width="0.18" transform="translate(639.20 420.40) scale(1.113 1)"><text font-style="italic">μ</text><text x="4.7" y="-2.3" font-size="4.4">*</text><text x="8.6">=</text><text x="14.0">-0.051</text></g>
<g font-size="6.4" fill="#000" stroke="#000" stroke-width="0.18" transform="translate(639.20 428.10) scale(1.113 1)"><text font-style="italic">σ</text><text x="4.7" y="-2.3" font-size="4.4">*</text><text x="8.6">=</text><text x="14.0">0.28</text></g>
<clipPath id="c11"><rect x="23.55" y="561.90" width="190.00" height="106.60"/></clipPath>
<g clip-path="url(#c11)">
<path d="M23.95 668.50h2.38V666.29h-2.38zM27.11 668.50h2.38V668.37h-2.38zM30.28 668.50h2.38V668.37h-2.38zM33.45 668.50h2.38V664.47h-2.38zM36.61 668.50h2.38V666.55h-2.38zM39.78 668.50h2.38V665.90h-2.38zM42.95 668.50h2.38V663.68h-2.38zM46.11 668.50h2.38V668.11h-2.38zM49.28 668.50h2.38V665.90h-2.38zM52.45 668.50h2.38V664.47h-2.38zM55.61 668.50h2.38V665.38h-2.38zM58.78 668.50h2.38V662.25h-2.38zM61.95 668.50h2.38V661.47h-2.38zM65.11 668.50h2.38V659.26h-2.38zM68.28 668.50h2.38V661.47h-2.38zM71.45 668.50h2.38V659.26h-2.38zM74.61 668.50h2.38V658.61h-2.38zM77.78 668.50h2.38V662.90h-2.38zM80.95 668.50h2.38V654.44h-2.38zM84.11 668.50h2.38V656.40h-2.38zM87.28 668.50h2.38V645.85h-2.38zM90.45 668.50h2.38V650.54h-2.38zM93.61 668.50h2.38V650.15h-2.38zM96.78 668.50h2.38V640.65h-2.38zM99.95 668.50h2.38V640.39h-2.38zM103.11 668.50h2.38V632.71h-2.38zM106.28 668.50h2.38V616.96h-2.38zM109.45 668.50h2.38V601.34h-2.38zM112.61 668.50h2.38V582.60h-2.38zM115.78 668.50h2.38V574.66h-2.38zM118.95 668.50h2.38V567.37h-2.38zM122.11 668.50h2.38V572.83h-2.38zM125.28 668.50h2.38V582.60h-2.38zM128.45 668.50h2.38V590.01h-2.38zM131.61 668.50h2.38V607.46h-2.38zM134.78 668.50h2.38V624.25h-2.38zM137.95 668.50h2.38V630.88h-2.38zM141.11 668.50h2.38V632.71h-2.38zM144.28 668.50h2.38V643.25h-2.38zM147.45 668.50h2.38V647.67h-2.38zM150.61 668.50h2.38V651.97h-2.38zM153.78 668.50h2.38V652.75h-2.38zM156.95 668.50h2.38V659.26h-2.38zM160.11 668.50h2.38V660.82h-2.38zM163.28 668.50h2.38V657.83h-2.38zM166.45 668.50h2.38V662.90h-2.38zM169.61 668.50h2.38V662.90h-2.38zM172.78 668.50h2.38V663.68h-2.38zM175.95 668.50h2.38V665.90h-2.38zM179.11 668.50h2.38V665.12h-2.38zM182.28 668.50h2.38V667.33h-2.38zM185.45 668.50h2.38V664.47h-2.38zM188.61 668.50h2.38V665.38h-2.38zM191.78 668.50h2.38V665.12h-2.38zM194.95 668.50h2.38V666.29h-2.38zM198.11 668.50h2.38V667.33h-2.38zM201.28 668.50h2.38V668.11h-2.38zM204.45 668.50h2.38V668.11h-2.38zM207.61 668.50h2.38V668.11h-2.38zM210.78 668.50h2.38V666.55h-2.38z" fill="#003f5c"/>
<path d="M55.22 561.90V668.50M86.88 561.90V668.50M118.55 561.90V668.50M150.22 561.90V668.50M181.88 561.90V668.50M23.55 642.47H213.55M23.55 616.44H213.55M23.55 590.40H213.55M23.55 564.37H213.55" stroke="#a8a8a8" stroke-opacity="0.23" stroke-width="0.55" fill="none"/>
<path d="M23.55 668.45L25.47 668.44L27.39 668.42L29.31 668.41L31.23 668.39L33.15 668.38L35.07 668.35L36.98 668.33L38.90 668.29L40.82 668.26L42.74 668.21L44.66 668.16L46.58 668.09L48.50 668.02L50.42 667.93L52.34 667.83L54.26 667.70L56.18 667.56L58.10 667.39L60.01 667.18L61.93 666.94L63.85 666.65L65.77 666.32L67.69 665.92L69.61 665.44L71.53 664.88L73.45 664.22L75.37 663.43L77.29 662.50L79.21 661.40L81.13 660.10L83.04 658.56L84.96 656.74L86.88 654.58L88.80 652.03L90.72 649.01L92.64 645.44L94.56 641.21L96.48 636.24L98.40 630.77L100.32 624.92L102.24 618.80L104.16 612.53L106.08 606.26L107.99 600.14L109.91 594.37L111.83 589.12L113.75 584.56L115.67 580.85L117.59 578.12L119.51 576.47L121.43 575.96L123.35 576.62L125.27 578.41L127.19 581.27L129.11 585.10L131.02 589.76L132.94 595.09L134.86 600.92L136.78 607.06L138.70 613.34L140.62 619.60L142.54 625.70L144.46 631.50L146.38 636.91L148.30 641.79L150.22 645.93L152.14 649.43L154.06 652.38L155.97 654.88L157.89 656.99L159.81 658.77L161.73 660.28L163.65 661.55L165.57 662.63L167.49 663.54L169.41 664.31L171.33 664.96L173.25 665.51L175.17 665.97L177.09 666.36L179.00 666.69L180.92 666.97L182.84 667.21L184.76 667.41L186.68 667.58L188.60 667.72L190.52 667.84L192.44 667.94L194.36 668.03L196.28 668.10L198.20 668.16L200.12 668.22L202.03 668.26L203.95 668.30L205.87 668.33L207.79 668.36L209.71 668.38L211.63 668.40L213.55 668.41" stroke="#00ffff" stroke-width="2.35" fill="none" stroke-linejoin="round"/>
</g>
<rect x="23.55" y="561.90" width="190.00" height="106.60" fill="none" stroke="#444" stroke-width="0.8"/>
<path d="M23.55 668.50v2.3M55.22 668.50v2.3M86.88 668.50v2.3M118.55 668.50v2.3M150.22 668.50v2.3M181.88 668.50v2.3M213.55 668.50v2.3M23.55 668.50h-2.3M23.55 642.47h-2.3M23.55 616.44h-2.3M23.55 590.40h-2.3M23.55 564.37h-2.3" stroke="#333" stroke-width="0.7" fill="none"/>
<g font-size="6.4" fill="#000" stroke="#000" stroke-width="0.18">
<text transform="translate(22.75 678.00) scale(1.113 1)" text-anchor="middle">-3</text>
<text transform="translate(54.42 678.00) scale(1.113 1)" text-anchor="middle">-2</text>
<text transform="translate(86.08 678.00) scale(1.113 1)" text-anchor="middle">-1</text>
<text transform="translate(118.55 678.00) scale(1.113 1)" text-anchor="middle">0</text>
<text transform="translate(150.22 678.00) scale(1.113 1)" text-anchor="middle">1</text>
<text transform="translate(181.88 678.00) scale(1.113 1)" text-anchor="middle">2</text>
<text transform="translate(213.55 678.00) scale(1.113 1)" text-anchor="middle">3</text>
<text transform="translate(18.55 670.80) scale(1.113 1)" text-anchor="end">0.0</text>
<text transform="translate(18.55 644.77) scale(1.113 1)" text-anchor="end">0.2</text>
<text transform="translate(18.55 618.74) scale(1.113 1)" text-anchor="end">0.4</text>
<text transform="translate(18.55 592.70) scale(1.113 1)" text-anchor="end">0.6</text>
<text transform="translate(18.55 566.67) scale(1.113 1)" text-anchor="end">0.8</text>
</g>
<text transform="translate(5.15 615.20) rotate(-90) scale(1.113 1)" font-size="6.4" text-anchor="middle" fill="#000" stroke="#000" stroke-width="0.18">X</text>
<text x="118.55" y="686.50" font-size="7" font-style="italic" text-anchor="middle" fill="#000" stroke="#000" stroke-width="0.18">ε</text>
<text transform="translate(118.55 557.80) scale(0.965 1)" font-size="8" text-anchor="middle" fill="#000" stroke="#000" stroke-width="0.18">VO CRYOSAT (MF)</text>
<rect x="151.55" y="565.20" width="58.80" height="19.00" rx="1.3" fill="#fff" fill-opacity="0.8" stroke="#d4d4d4" stroke-width="0.6"/>
<path d="M153.65 575.00h14.6" stroke="#00ffff" stroke-width="2.35"/>
<g font-size="6.4" fill="#000" stroke="#000" stroke-width="0.18" transform="translate(171.95 572.60) scale(1.113 1)"><text font-style="italic">μ</text><text x="4.7" y="-2.3" font-size="4.4">*</text><text x="8.6">=</text><text x="14.0">0.087</text></g>
<g font-size="6.4" fill="#000" stroke="#000" stroke-width="0.18" transform="translate(171.95 580.30) scale(1.113 1)"><text font-style="italic">σ</text><text x="4.7" y="-2.3" font-size="4.4">*</text><text x="8.6">=</text><text x="14.0">0.54</text></g>
<clipPath id="c12"><rect x="23.55" y="695.30" width="190.00" height="106.20"/></clipPath>
<g clip-path="url(#c12)">
<path d="M23.95 801.50h2.38V801.27h-2.38zM27.11 801.50h2.38V801.27h-2.38zM30.28 801.50h2.38V800.92h-2.38zM33.45 801.50h2.38V801.27h-2.38zM36.61 801.50h2.38V801.27h-2.38zM39.78 801.50h2.38V800.10h-2.38zM42.95 801.50h2.38V801.15h-2.38zM46.11 801.50h2.38V797.42h-2.38zM49.28 801.50h2.38V801.15h-2.38zM52.45 801.50h2.38V797.42h-2.38zM55.61 801.50h2.38V800.57h-2.38zM58.78 801.50h2.38V798.70h-2.38zM61.95 801.50h2.38V800.57h-2.38zM65.11 801.50h2.38V796.48h-2.38zM68.28 801.50h2.38V795.66h-2.38zM71.45 801.50h2.38V794.73h-2.38zM74.61 801.50h2.38V795.66h-2.38zM77.78 801.50h2.38V792.05h-2.38zM80.95 801.50h2.38V784.23h-2.38zM84.11 801.50h2.38V790.53h-2.38zM87.28 801.50h2.38V787.96h-2.38zM90.45 801.50h2.38V782.13h-2.38zM93.61 801.50h2.38V768.59h-2.38zM96.78 801.50h2.38V768.59h-2.38zM99.95 801.50h2.38V764.15h-2.38zM103.11 801.50h2.38V761.00h-2.38zM106.28 801.50h2.38V748.40h-2.38zM109.45 801.50h2.38V733.46h-2.38zM112.61 801.50h2.38V726.81h-2.38zM115.78 801.50h2.38V705.92h-2.38zM118.95 801.50h2.38V700.32h-2.38zM122.11 801.50h2.38V718.06h-2.38zM125.28 801.50h2.38V728.79h-2.38zM128.45 801.50h2.38V744.90h-2.38zM131.61 801.50h2.38V754.70h-2.38zM134.78 801.50h2.38V760.54h-2.38zM137.95 801.50h2.38V776.99h-2.38zM141.11 801.50h2.38V781.08h-2.38zM144.28 801.50h2.38V780.61h-2.38zM147.45 801.50h2.38V782.48h-2.38zM150.61 801.50h2.38V789.13h-2.38zM153.78 801.50h2.38V792.05h-2.38zM156.95 801.50h2.38V794.26h-2.38zM160.11 801.50h2.38V789.13h-2.38zM163.28 801.50h2.38V793.10h-2.38zM166.45 801.50h2.38V794.96h-2.38zM169.61 801.50h2.38V795.66h-2.38zM172.78 801.50h2.38V798.70h-2.38zM175.95 801.50h2.38V800.57h-2.38zM179.11 801.50h2.38V798.70h-2.38zM182.28 801.50h2.38V798.23h-2.38zM185.45 801.50h2.38V800.92h-2.38zM188.61 801.50h2.38V799.40h-2.38zM191.78 801.50h2.38V798.70h-2.38zM194.95 801.50h2.38V801.15h-2.38zM198.11 801.50h2.38V801.15h-2.38zM201.28 801.50h2.38V801.15h-2.38zM204.45 801.50h2.38V801.15h-2.38zM207.61 801.50h2.38V799.17h-2.38zM210.78 801.50h2.38V801.15h-2.38z" fill="#58508d"/>
<path d="M55.22 695.30V801.50M86.88 695.30V801.50M118.55 695.30V801.50M150.22 695.30V801.50M181.88 695.30V801.50M23.55 778.16H213.55M23.55 754.82H213.55M23.55 731.48H213.55M23.55 708.14H213.55" stroke="#a8a8a8" stroke-opacity="0.23" stroke-width="0.55" fill="none"/>
<path d="M23.55 801.45L25.47 801.45L27.39 801.44L29.31 801.42L31.23 801.41L33.15 801.39L35.07 801.37L36.98 801.34L38.90 801.31L40.82 801.28L42.74 801.24L44.66 801.19L46.58 801.13L48.50 801.06L50.42 800.97L52.34 800.87L54.26 800.75L56.18 800.61L58.10 800.44L60.01 800.23L61.93 799.99L63.85 799.70L65.77 799.36L67.69 798.95L69.61 798.46L71.53 797.88L73.45 797.19L75.37 796.36L77.29 795.38L79.21 794.21L81.13 792.82L83.04 791.17L84.96 789.19L86.88 786.84L88.80 784.04L90.72 780.70L92.64 776.73L94.56 772.02L96.48 766.77L98.40 761.13L100.32 755.22L102.24 749.15L104.16 743.09L106.08 737.21L107.99 731.68L109.91 726.71L111.83 722.46L113.75 719.10L115.67 716.76L117.59 715.52L119.51 715.44L121.43 716.53L123.35 718.73L125.27 721.96L127.19 726.10L129.11 730.99L131.02 736.45L132.94 742.30L134.86 748.35L136.78 754.42L138.70 760.36L140.62 766.04L142.54 771.35L144.46 776.15L146.38 780.22L148.30 783.63L150.22 786.50L152.14 788.90L154.06 790.92L155.97 792.62L157.89 794.04L159.81 795.24L161.73 796.24L163.65 797.09L165.57 797.80L167.49 798.39L169.41 798.89L171.33 799.31L173.25 799.66L175.17 799.95L177.09 800.20L179.00 800.41L180.92 800.59L182.84 800.73L184.76 800.86L186.68 800.96L188.60 801.05L190.52 801.12L192.44 801.18L194.36 801.23L196.28 801.27L198.20 801.31L200.12 801.34L202.03 801.37L203.95 801.39L205.87 801.41L207.79 801.42L209.71 801.43L211.63 801.44L213.55 801.45" stroke="#00ffff" stroke-width="2.35" fill="none" stroke-linejoin="round"/>
</g>
<rect x="23.55" y="695.30" width="190.00" height="106.20" fill="none" stroke="#444" stroke-width="0.8"/>
<path d="M23.55 801.50v2.3M55.22 801.50v2.3M86.88 801.50v2.3M118.55 801.50v2.3M150.22 801.50v2.3M181.88 801.50v2.3M213.55 801.50v2.3M23.55 801.50h-2.3M23.55 778.16h-2.3M23.55 754.82h-2.3M23.55 731.48h-2.3M23.55 708.14h-2.3" stroke="#333" stroke-width="0.7" fill="none"/>
<g font-size="6.4" fill="#000" stroke="#000" stroke-width="0.18">
<text transform="translate(22.75 811.00) scale(1.113 1)" text-anchor="middle">-3</text>
<text transform="translate(54.42 811.00) scale(1.113 1)" text-anchor="middle">-2</text>
<text transform="translate(86.08 811.00) scale(1.113 1)" text-anchor="middle">-1</text>
<text transform="translate(118.55 811.00) scale(1.113 1)" text-anchor="middle">0</text>
<text transform="translate(150.22 811.00) scale(1.113 1)" text-anchor="middle">1</text>
<text transform="translate(181.88 811.00) scale(1.113 1)" text-anchor="middle">2</text>
<text transform="translate(213.55 811.00) scale(1.113 1)" text-anchor="middle">3</text>
<text transform="translate(18.55 803.80) scale(1.113 1)" text-anchor="end">0.0</text>
<text transform="translate(18.55 780.46) scale(1.113 1)" text-anchor="end">0.2</text>
<text transform="translate(18.55 757.12) scale(1.113 1)" text-anchor="end">0.4</text>
<text transform="translate(18.55 733.78) scale(1.113 1)" text-anchor="end">0.6</text>
<text transform="translate(18.55 710.44) scale(1.113 1)" text-anchor="end">0.8</text>
</g>
<text transform="translate(5.15 748.40) rotate(-90) scale(1.113 1)" font-size="6.4" text-anchor="middle" fill="#000" stroke="#000" stroke-width="0.18">Y</text>
<text x="118.55" y="819.50" font-size="7" font-style="italic" text-anchor="middle" fill="#000" stroke="#000" stroke-width="0.18">ε</text>
<rect x="151.55" y="698.60" width="58.80" height="19.00" rx="1.3" fill="#fff" fill-opacity="0.8" stroke="#d4d4d4" stroke-width="0.6"/>
<path d="M153.65 708.40h14.6" stroke="#00ffff" stroke-width="2.35"/>
<g font-size="6.4" fill="#000" stroke="#000" stroke-width="0.18" transform="translate(171.95 706.00) scale(1.113 1)"><text font-style="italic">μ</text><text x="4.7" y="-2.3" font-size="4.4">*</text><text x="8.6">=</text><text x="14.0">0.004</text></g>
<g font-size="6.4" fill="#000" stroke="#000" stroke-width="0.18" transform="translate(171.95 713.70) scale(1.113 1)"><text font-style="italic">σ</text><text x="4.7" y="-2.3" font-size="4.4">*</text><text x="8.6">=</text><text x="14.0">0.52</text></g>
<clipPath id="c13"><rect x="23.55" y="828.40" width="190.00" height="106.20"/></clipPath>
<g clip-path="url(#c13)">
<path d="M23.95 934.60h2.38V932.44h-2.38zM27.11 934.60h2.38V932.80h-2.38zM30.28 934.60h2.38V934.24h-2.38zM33.45 934.60h2.38V931.17h-2.38zM36.61 934.60h2.38V934.24h-2.38zM39.78 934.60h2.38V933.88h-2.38zM42.95 934.60h2.38V931.17h-2.38zM46.11 934.60h2.38V926.31h-2.38zM49.28 934.60h2.38V929.19h-2.38zM52.45 934.60h2.38V924.32h-2.38zM55.61 934.60h2.38V928.11h-2.38zM58.78 934.60h2.38V926.31h-2.38zM61.95 934.60h2.38V922.16h-2.38zM65.11 934.60h2.38V922.88h-2.38zM68.28 934.60h2.38V923.60h-2.38zM71.45 934.60h2.38V924.86h-2.38zM74.61 934.60h2.38V921.08h-2.38zM77.78 934.60h2.38V917.11h-2.38zM80.95 934.60h2.38V914.23h-2.38zM84.11 934.60h2.38V908.82h-2.38zM87.28 934.60h2.38V905.03h-2.38zM90.45 934.60h2.38V913.14h-2.38zM93.61 934.60h2.38V892.95h-2.38zM96.78 934.60h2.38V888.98h-2.38zM99.95 934.60h2.38V885.20h-2.38zM103.11 934.60h2.38V878.89h-2.38zM106.28 934.60h2.38V871.49h-2.38zM109.45 934.60h2.38V861.22h-2.38zM112.61 934.60h2.38V850.58h-2.38zM115.78 934.60h2.38V833.81h-2.38zM118.95 934.60h2.38V841.20h-2.38zM122.11 934.60h2.38V837.60h-2.38zM125.28 934.60h2.38V848.41h-2.38zM128.45 934.60h2.38V841.92h-2.38zM131.61 934.60h2.38V857.97h-2.38zM134.78 934.60h2.38V851.84h-2.38zM137.95 934.60h2.38V885.20h-2.38zM141.11 934.60h2.38V882.31h-2.38zM144.28 934.60h2.38V894.03h-2.38zM147.45 934.60h2.38V897.82h-2.38zM150.61 934.60h2.38V900.34h-2.38zM153.78 934.60h2.38V903.23h-2.38zM156.95 934.60h2.38V911.88h-2.38zM160.11 934.60h2.38V920.36h-2.38zM163.28 934.60h2.38V907.19h-2.38zM166.45 934.60h2.38V911.16h-2.38zM169.61 934.60h2.38V915.31h-2.38zM172.78 934.60h2.38V923.60h-2.38zM175.95 934.60h2.38V922.16h-2.38zM179.11 934.60h2.38V921.08h-2.38zM182.28 934.60h2.38V925.77h-2.38zM185.45 934.60h2.38V924.68h-2.38zM188.61 934.60h2.38V924.68h-2.38zM191.78 934.60h2.38V924.68h-2.38zM194.95 934.60h2.38V929.19h-2.38zM198.11 934.60h2.38V933.16h-2.38zM201.28 934.60h2.38V928.11h-2.38zM204.45 934.60h2.38V926.31h-2.38zM207.61 934.60h2.38V930.27h-2.38zM210.78 934.60h2.38V933.88h-2.38z" fill="#bc5090"/>
<path d="M55.22 828.40V934.60M86.88 828.40V934.60M118.55 828.40V934.60M150.22 828.40V934.60M181.88 828.40V934.60M23.55 916.57H213.55M23.55 898.54H213.55M23.55 880.51H213.55M23.55 862.48H213.55M23.55 844.45H213.55" stroke="#a8a8a8" stroke-opacity="0.23" stroke-width="0.55" fill="none"/>
<path d="M23.55 933.96L25.47 933.88L27.39 933.79L29.31 933.69L31.23 933.58L33.15 933.45L35.07 933.31L36.98 933.15L38.90 932.96L40.82 932.76L42.74 932.53L44.66 932.27L46.58 931.98L48.50 931.65L50.42 931.28L52.34 930.86L54.26 930.39L56.18 929.87L58.10 929.27L60.01 928.60L61.93 927.85L63.85 927.01L65.77 926.06L67.69 924.99L69.61 923.78L71.53 922.43L73.45 920.90L75.37 919.18L77.29 917.25L79.21 915.08L81.13 912.63L83.04 909.88L84.96 906.78L86.88 903.33L88.80 899.64L90.72 895.77L92.64 891.73L94.56 887.57L96.48 883.32L98.40 879.03L100.32 874.76L102.24 870.55L104.16 866.48L106.08 862.59L107.99 858.94L109.91 855.61L111.83 852.64L113.75 850.08L115.67 847.97L117.59 846.37L119.51 845.29L121.43 844.76L123.35 844.78L125.27 845.35L127.19 846.47L129.11 848.11L131.02 850.25L132.94 852.84L134.86 855.84L136.78 859.20L138.70 862.86L140.62 866.77L142.54 870.86L144.46 875.07L146.38 879.35L148.30 883.63L150.22 887.88L152.14 892.03L154.06 896.06L155.97 899.92L157.89 903.59L159.81 907.02L161.73 910.09L163.65 912.82L165.57 915.24L167.49 917.40L169.41 919.31L171.33 921.02L173.25 922.53L175.17 923.87L177.09 925.07L179.00 926.13L180.92 927.07L182.84 927.91L184.76 928.66L186.68 929.32L188.60 929.91L190.52 930.43L192.44 930.89L194.36 931.31L196.28 931.67L198.20 932.00L200.12 932.29L202.03 932.55L203.95 932.77L205.87 932.98L207.79 933.16L209.71 933.32L211.63 933.46L213.55 933.59" stroke="#00ffff" stroke-width="2.35" fill="none" stroke-linejoin="round"/>
</g>
<rect x="23.55" y="828.40" width="190.00" height="106.20" fill="none" stroke="#444" stroke-width="0.8"/>
<path d="M23.55 934.60v2.3M55.22 934.60v2.3M86.88 934.60v2.3M118.55 934.60v2.3M150.22 934.60v2.3M181.88 934.60v2.3M213.55 934.60v2.3M23.55 934.60h-2.3M23.55 916.57h-2.3M23.55 898.54h-2.3M23.55 880.51h-2.3M23.55 862.48h-2.3M23.55 844.45h-2.3" stroke="#333" stroke-width="0.7" fill="none"/>
<g font-size="6.4" fill="#000" stroke="#000" stroke-width="0.18">
<text transform="translate(22.75 944.10) scale(1.113 1)" text-anchor="middle">-3</text>
<text transform="translate(54.42 944.10) scale(1.113 1)" text-anchor="middle">-2</text>
<text transform="translate(86.08 944.10) scale(1.113 1)" text-anchor="middle">-1</text>
<text transform="translate(118.55 944.10) scale(1.113 1)" text-anchor="middle">0</text>
<text transform="translate(150.22 944.10) scale(1.113 1)" text-anchor="middle">1</text>
<text transform="translate(181.88 944.10) scale(1.113 1)" text-anchor="middle">2</text>
<text transform="translate(213.55 944.10) scale(1.113 1)" text-anchor="middle">3</text>
<text transform="translate(18.55 936.90) scale(1.113 1)" text-anchor="end">0.0</text>
<text transform="translate(18.55 918.87) scale(1.113 1)" text-anchor="end">0.1</text>
<text transform="translate(18.55 900.84) scale(1.113 1)" text-anchor="end">0.2</text>
<text transform="translate(18.55 882.81) scale(1.113 1)" text-anchor="end">0.3</text>
<text transform="translate(18.55 864.78) scale(1.113 1)" text-anchor="end">0.4</text>
<text transform="translate(18.55 846.75) scale(1.113 1)" text-anchor="end">0.5</text>
</g>
<text transform="translate(5.15 881.50) rotate(-90) scale(1.113 1)" font-size="6.4" text-anchor="middle" fill="#000" stroke="#000" stroke-width="0.18">Z</text>
<text x="118.55" y="952.60" font-size="7" font-style="italic" text-anchor="middle" fill="#000" stroke="#000" stroke-width="0.18">ε</text>
<rect x="151.55" y="831.70" width="58.80" height="19.00" rx="1.3" fill="#fff" fill-opacity="0.8" stroke="#d4d4d4" stroke-width="0.6"/>
<path d="M153.65 841.50h14.6" stroke="#00ffff" stroke-width="2.35"/>
<g font-size="6.4" fill="#000" stroke="#000" stroke-width="0.18" transform="translate(171.95 839.10) scale(1.113 1)"><text font-style="italic">μ</text><text x="4.7" y="-2.3" font-size="4.4">*</text><text x="8.6">=</text><text x="14.0">0.119</text></g>
<g font-size="6.4" fill="#000" stroke="#000" stroke-width="0.18" transform="translate(171.95 846.80) scale(1.113 1)"><text font-style="italic">σ</text><text x="4.7" y="-2.3" font-size="4.4">*</text><text x="8.6">=</text><text x="14.0">0.77</text></g>
<clipPath id="c14"><rect x="23.55" y="961.60" width="190.00" height="106.70"/></clipPath>
<g clip-path="url(#c14)">
<path d="M30.28 1068.30h2.38V1066.35h-2.38zM33.45 1068.30h2.38V1066.35h-2.38zM42.95 1068.30h2.38V1066.35h-2.38zM46.11 1068.30h2.38V1063.37h-2.38zM49.28 1068.30h2.38V1066.35h-2.38zM52.45 1068.30h2.38V1066.35h-2.38zM55.61 1068.30h2.38V1063.37h-2.38zM58.78 1068.30h2.38V1066.35h-2.38zM61.95 1068.30h2.38V1066.35h-2.38zM65.11 1068.30h2.38V1066.35h-2.38zM68.28 1068.30h2.38V1067.15h-2.38zM71.45 1068.30h2.38V1053.16h-2.38zM74.61 1068.30h2.38V1060.96h-2.38zM77.78 1068.30h2.38V1066.35h-2.38zM80.95 1068.30h2.38V1053.16h-2.38zM84.11 1068.30h2.38V1064.17h-2.38zM87.28 1068.30h2.38V1058.32h-2.38zM90.45 1068.30h2.38V1053.16h-2.38zM93.61 1068.30h2.38V1053.16h-2.38zM96.78 1068.30h2.38V1045.12h-2.38zM99.95 1068.30h2.38V1048.11h-2.38zM103.11 1068.30h2.38V1042.94h-2.38zM106.28 1068.30h2.38V1034.91h-2.38zM109.45 1068.30h2.38V1040.08h-2.38zM112.61 1068.30h2.38V1040.08h-2.38zM115.78 1068.30h2.38V995.79h-2.38zM118.95 1068.30h2.38V994.07h-2.38zM122.11 1068.30h2.38V980.19h-2.38zM125.28 1068.30h2.38V966.88h-2.38zM128.45 1068.30h2.38V985.35h-2.38zM131.61 1068.30h2.38V987.53h-2.38zM134.78 1068.30h2.38V1016.67h-2.38zM137.95 1068.30h2.38V995.79h-2.38zM141.11 1068.30h2.38V1027.23h-2.38zM144.28 1068.30h2.38V1023.33h-2.38zM147.45 1068.30h2.38V1048.11h-2.38zM150.61 1068.30h2.38V1045.12h-2.38zM153.78 1068.30h2.38V1053.16h-2.38zM156.95 1068.30h2.38V1053.96h-2.38zM160.11 1068.30h2.38V1050.52h-2.38zM163.28 1068.30h2.38V1063.37h-2.38zM166.45 1068.30h2.38V1063.14h-2.38zM169.61 1068.30h2.38V1050.52h-2.38zM172.78 1068.30h2.38V1066.35h-2.38zM175.95 1068.30h2.38V1066.35h-2.38zM179.11 1068.30h2.38V1067.38h-2.38zM188.61 1068.30h2.38V1066.81h-2.38zM191.78 1068.30h2.38V1066.81h-2.38z" fill="#ff6361"/>
<path d="M55.22 961.60V1068.30M86.88 961.60V1068.30M118.55 961.60V1068.30M150.22 961.60V1068.30M181.88 961.60V1068.30M23.55 1045.35H213.55M23.55 1022.41H213.55M23.55 999.46H213.55M23.55 976.52H213.55" stroke="#a8a8a8" stroke-opacity="0.23" stroke-width="0.55" fill="none"/>
<path d="M23.55 1068.28L25.47 1068.28L27.39 1068.28L29.31 1068.27L31.23 1068.27L33.15 1068.26L35.07 1068.25L36.98 1068.24L38.90 1068.23L40.82 1068.22L42.74 1068.20L44.66 1068.18L46.58 1068.16L48.50 1068.13L50.42 1068.09L52.34 1068.05L54.26 1068.01L56.18 1067.95L58.10 1067.88L60.01 1067.80L61.93 1067.70L63.85 1067.58L65.77 1067.44L67.69 1067.28L69.61 1067.08L71.53 1066.84L73.45 1066.56L75.37 1066.22L77.29 1065.81L79.21 1065.32L81.13 1064.74L83.04 1064.05L84.96 1063.22L86.88 1062.22L88.80 1061.04L90.72 1059.62L92.64 1057.93L94.56 1055.91L96.48 1053.49L98.40 1050.60L100.32 1047.14L102.24 1043.01L104.16 1038.12L106.08 1032.69L107.99 1026.88L109.91 1020.80L111.83 1014.59L113.75 1008.42L115.67 1002.47L117.59 996.95L119.51 992.05L121.43 987.96L123.35 984.84L125.27 982.81L127.19 981.95L129.11 982.31L131.02 983.88L132.94 986.57L134.86 990.29L136.78 994.88L138.70 1000.18L140.62 1005.97L142.54 1012.08L144.46 1018.29L146.38 1024.45L148.30 1030.38L150.22 1035.97L152.14 1041.12L154.06 1045.56L155.97 1049.27L157.89 1052.38L159.81 1054.98L161.73 1057.15L163.65 1058.97L165.57 1060.50L167.49 1061.77L169.41 1062.84L171.33 1063.73L173.25 1064.47L175.17 1065.10L177.09 1065.62L179.00 1066.06L180.92 1066.42L182.84 1066.73L184.76 1066.99L186.68 1067.20L188.60 1067.38L190.52 1067.53L192.44 1067.66L194.36 1067.76L196.28 1067.85L198.20 1067.92L200.12 1067.98L202.03 1068.04L203.95 1068.08L205.87 1068.12L207.79 1068.15L209.71 1068.17L211.63 1068.19L213.55 1068.21" stroke="#00ffff" stroke-width="2.35" fill="none" stroke-linejoin="round"/>
</g>
<rect x="23.55" y="961.60" width="190.00" height="106.70" fill="none" stroke="#444" stroke-width="0.8"/>
<path d="M23.55 1068.30v2.3M55.22 1068.30v2.3M86.88 1068.30v2.3M118.55 1068.30v2.3M150.22 1068.30v2.3M181.88 1068.30v2.3M213.55 1068.30v2.3M23.55 1068.30h-2.3M23.55 1045.35h-2.3M23.55 1022.41h-2.3M23.55 999.46h-2.3M23.55 976.52h-2.3" stroke="#333" stroke-width="0.7" fill="none"/>
<g font-size="6.4" fill="#000" stroke="#000" stroke-width="0.18">
<text transform="translate(22.75 1077.80) scale(1.113 1)" text-anchor="middle">-3</text>
<text transform="translate(54.42 1077.80) scale(1.113 1)" text-anchor="middle">-2</text>
<text transform="translate(86.08 1077.80) scale(1.113 1)" text-anchor="middle">-1</text>
<text transform="translate(118.55 1077.80) scale(1.113 1)" text-anchor="middle">0</text>
<text transform="translate(150.22 1077.80) scale(1.113 1)" text-anchor="middle">1</text>
<text transform="translate(181.88 1077.80) scale(1.113 1)" text-anchor="middle">2</text>
<text transform="translate(213.55 1077.80) scale(1.113 1)" text-anchor="middle">3</text>
<text transform="translate(18.55 1070.60) scale(1.113 1)" text-anchor="end">0.0</text>
<text transform="translate(18.55 1047.65) scale(1.113 1)" text-anchor="end">0.2</text>
<text transform="translate(18.55 1024.71) scale(1.113 1)" text-anchor="end">0.4</text>
<text transform="translate(18.55 1001.76) scale(1.113 1)" text-anchor="end">0.6</text>
<text transform="translate(18.55 978.82) scale(1.113 1)" text-anchor="end">0.8</text>
</g>
<text transform="translate(5.15 1014.95) rotate(-90) scale(1.113 1)" font-size="6.4" text-anchor="middle" fill="#000" stroke="#000" stroke-width="0.18">F</text>
<text x="118.55" y="1086.30" font-size="7" font-style="italic" text-anchor="middle" fill="#000" stroke="#000" stroke-width="0.18">ε</text>
<rect x="151.55" y="964.90" width="58.80" height="19.00" rx="1.3" fill="#fff" fill-opacity="0.8" stroke="#d4d4d4" stroke-width="0.6"/>
<path d="M153.65 974.70h14.6" stroke="#00ffff" stroke-width="2.35"/>
<g font-size="6.4" fill="#000" stroke="#000" stroke-width="0.18" transform="translate(171.95 972.30) scale(1.113 1)"><text font-style="italic">μ</text><text x="4.7" y="-2.3" font-size="4.4">*</text><text x="8.6">=</text><text x="14.0">0.285</text></g>
<g font-size="6.4" fill="#000" stroke="#000" stroke-width="0.18" transform="translate(171.95 980.00) scale(1.113 1)"><text font-style="italic">σ</text><text x="4.7" y="-2.3" font-size="4.4">*</text><text x="8.6">=</text><text x="14.0">0.51</text></g>
<clipPath id="c15"><rect x="258.45" y="561.90" width="189.95" height="106.60"/></clipPath>
<g clip-path="url(#c15)">
<path d="M268.34 668.50h2.37V665.85h-2.37zM271.51 668.50h2.37V668.10h-2.37zM274.67 668.50h2.37V668.10h-2.37zM277.84 668.50h2.37V668.10h-2.37zM281.01 668.50h2.37V668.10h-2.37zM284.17 668.50h2.37V663.33h-2.37zM287.34 668.50h2.37V667.57h-2.37zM290.50 668.50h2.37V665.85h-2.37zM293.67 668.50h2.37V665.45h-2.37zM296.84 668.50h2.37V664.79h-2.37zM300.00 668.50h2.37V665.85h-2.37zM303.17 668.50h2.37V665.85h-2.37zM306.33 668.50h2.37V664.39h-2.37zM309.50 668.50h2.37V658.56h-2.37zM312.66 668.50h2.37V663.33h-2.37zM315.83 668.50h2.37V660.41h-2.37zM319.00 668.50h2.37V657.89h-2.37zM322.16 668.50h2.37V658.56h-2.37zM325.33 668.50h2.37V650.47h-2.37zM328.49 668.50h2.37V649.01h-2.37zM331.66 668.50h2.37V643.97h-2.37zM334.83 668.50h2.37V632.97h-2.37zM337.99 668.50h2.37V635.22h-2.37zM341.16 668.50h2.37V619.84h-2.37zM344.32 668.50h2.37V620.64h-2.37zM347.49 668.50h2.37V599.42h-2.37zM350.65 668.50h2.37V585.90h-2.37zM353.82 668.50h2.37V586.30h-2.37zM356.99 668.50h2.37V579.00h-2.37zM360.15 668.50h2.37V567.20h-2.37zM363.32 668.50h2.37V592.13h-2.37zM366.48 668.50h2.37V603.80h-2.37zM369.65 668.50h2.37V617.72h-2.37zM372.82 668.50h2.37V615.20h-2.37zM375.98 668.50h2.37V622.36h-2.37zM379.15 668.50h2.37V630.05h-2.37zM382.31 668.50h2.37V643.18h-2.37zM385.48 668.50h2.37V636.68h-2.37zM388.64 668.50h2.37V646.09h-2.37zM391.81 668.50h2.37V652.99h-2.37zM394.98 668.50h2.37V651.26h-2.37zM398.14 668.50h2.37V653.12h-2.37zM401.31 668.50h2.37V659.35h-2.37zM404.47 668.50h2.37V662.53h-2.37zM407.64 668.50h2.37V664.39h-2.37zM410.81 668.50h2.37V660.01h-2.37zM413.97 668.50h2.37V658.16h-2.37zM417.14 668.50h2.37V667.70h-2.37zM420.30 668.50h2.37V658.16h-2.37zM423.47 668.50h2.37V662.93h-2.37zM426.63 668.50h2.37V662.27h-2.37zM429.80 668.50h2.37V663.33h-2.37zM432.97 668.50h2.37V663.33h-2.37zM436.13 668.50h2.37V664.79h-2.37zM439.30 668.50h2.37V666.91h-2.37zM442.46 668.50h2.37V667.57h-2.37zM445.63 668.50h2.37V668.10h-2.37z" fill="#003f5c"/>
<path d="M290.11 561.90V668.50M321.77 561.90V668.50M353.42 561.90V668.50M385.08 561.90V668.50M416.74 561.90V668.50M258.45 641.98H448.40M258.45 615.47H448.40M258.45 588.95H448.40M258.45 562.43H448.40" stroke="#a8a8a8" stroke-opacity="0.23" stroke-width="0.55" fill="none"/>
<path d="M258.45 668.40L260.37 668.38L262.29 668.36L264.21 668.34L266.12 668.32L268.04 668.29L269.96 668.25L271.88 668.21L273.80 668.16L275.72 668.11L277.64 668.05L279.56 667.98L281.47 667.89L283.39 667.79L285.31 667.68L287.23 667.55L289.15 667.40L291.07 667.22L292.99 667.01L294.91 666.77L296.82 666.50L298.74 666.17L300.66 665.80L302.58 665.37L304.50 664.86L306.42 664.28L308.34 663.60L310.25 662.81L312.17 661.90L314.09 660.83L316.01 659.60L317.93 658.17L319.85 656.51L321.77 654.59L323.69 652.35L325.60 649.75L327.52 646.74L329.44 643.25L331.36 639.23L333.28 634.87L335.20 630.23L337.12 625.39L339.03 620.42L340.95 615.39L342.87 610.42L344.79 605.60L346.71 601.06L348.63 596.89L350.55 593.22L352.47 590.13L354.38 587.72L356.30 586.06L358.22 585.18L360.14 585.12L362.06 585.89L363.98 587.45L365.90 589.76L367.82 592.76L369.73 596.35L371.65 600.46L373.57 604.96L375.49 609.74L377.41 614.70L379.33 619.72L381.25 624.71L383.16 629.58L385.08 634.24L387.00 638.64L388.92 642.72L390.84 646.29L392.76 649.37L394.68 652.01L396.60 654.30L398.51 656.26L400.43 657.96L402.35 659.42L404.27 660.68L406.19 661.76L408.11 662.69L410.03 663.50L411.94 664.19L413.86 664.79L415.78 665.30L417.70 665.74L419.62 666.12L421.54 666.45L423.46 666.74L425.38 666.98L427.29 667.19L429.21 667.37L431.13 667.53L433.05 667.66L434.97 667.78L436.89 667.88L438.81 667.96L440.73 668.04L442.64 668.10L444.56 668.16L446.48 668.21L448.40 668.25" stroke="#00ffff" stroke-width="2.35" fill="none" stroke-linejoin="round"/>
</g>
<rect x="258.45" y="561.90" width="189.95" height="106.60" fill="none" stroke="#444" stroke-width="0.8"/>
<path d="M258.45 668.50v2.3M290.11 668.50v2.3M321.77 668.50v2.3M353.42 668.50v2.3M385.08 668.50v2.3M416.74 668.50v2.3M448.40 668.50v2.3M258.45 668.50h-2.3M258.45 641.98h-2.3M258.45 615.47h-2.3M258.45 588.95h-2.3M258.45 562.43h-2.3" stroke="#333" stroke-width="0.7" fill="none"/>
<g font-size="6.4" fill="#000" stroke="#000" stroke-width="0.18">
<text transform="translate(257.65 678.00) scale(1.113 1)" text-anchor="middle">-3</text>
<text transform="translate(289.31 678.00) scale(1.113 1)" text-anchor="middle">-2</text>
<text transform="translate(320.97 678.00) scale(1.113 1)" text-anchor="middle">-1</text>
<text transform="translate(353.42 678.00) scale(1.113 1)" text-anchor="middle">0</text>
<text transform="translate(385.08 678.00) scale(1.113 1)" text-anchor="middle">1</text>
<text transform="translate(416.74 678.00) scale(1.113 1)" text-anchor="middle">2</text>
<text transform="translate(448.40 678.00) scale(1.113 1)" text-anchor="middle">3</text>
<text transform="translate(253.45 670.80) scale(1.113 1)" text-anchor="end">0.0</text>
<text transform="translate(253.45 644.28) scale(1.113 1)" text-anchor="end">0.2</text>
<text transform="translate(253.45 617.77) scale(1.113 1)" text-anchor="end">0.4</text>
<text transform="translate(253.45 591.25) scale(1.113 1)" text-anchor="end">0.6</text>
<text transform="translate(253.45 564.73) scale(1.113 1)" text-anchor="end">0.8</text>
</g>
<text transform="translate(240.05 615.20) rotate(-90) scale(1.113 1)" font-size="6.4" text-anchor="middle" fill="#000" stroke="#000" stroke-width="0.18">X</text>
<text x="353.42" y="686.50" font-size="7" font-style="italic" text-anchor="middle" fill="#000" stroke="#000" stroke-width="0.18">ε</text>
<text transform="translate(353.42 557.80) scale(0.965 1)" font-size="8" text-anchor="middle" fill="#000" stroke="#000" stroke-width="0.18">VO GRACE (MF)</text>
<rect x="386.40" y="565.20" width="58.80" height="19.00" rx="1.3" fill="#fff" fill-opacity="0.8" stroke="#d4d4d4" stroke-width="0.6"/>
<path d="M388.50 575.00h14.6" stroke="#00ffff" stroke-width="2.35"/>
<g font-size="6.4" fill="#000" stroke="#000" stroke-width="0.18" transform="translate(406.80 572.60) scale(1.113 1)"><text font-style="italic">μ</text><text x="4.7" y="-2.3" font-size="4.4">*</text><text x="8.6">=</text><text x="14.0">0.186</text></g>
<g font-size="6.4" fill="#000" stroke="#000" stroke-width="0.18" transform="translate(406.80 580.30) scale(1.113 1)"><text font-style="italic">σ</text><text x="4.7" y="-2.3" font-size="4.4">*</text><text x="8.6">=</text><text x="14.0">0.61</text></g>
<clipPath id="c16"><rect x="258.45" y="695.30" width="189.95" height="106.20"/></clipPath>
<g clip-path="url(#c16)">
<path d="M258.85 801.50h2.37V800.89h-2.37zM262.01 801.50h2.37V797.26h-2.37zM265.18 801.50h2.37V797.26h-2.37zM268.34 801.50h2.37V797.26h-2.37zM271.51 801.50h2.37V796.05h-2.37zM274.67 801.50h2.37V797.26h-2.37zM277.84 801.50h2.37V797.26h-2.37zM281.01 801.50h2.37V796.51h-2.37zM284.17 801.50h2.37V799.38h-2.37zM287.34 801.50h2.37V793.33h-2.37zM290.50 801.50h2.37V794.69h-2.37zM293.67 801.50h2.37V792.57h-2.37zM296.84 801.50h2.37V793.33h-2.37zM300.00 801.50h2.37V790.31h-2.37zM303.17 801.50h2.37V790.31h-2.37zM306.33 801.50h2.37V789.25h-2.37zM309.50 801.50h2.37V780.47h-2.37zM312.66 801.50h2.37V785.62h-2.37zM315.83 801.50h2.37V777.29h-2.37zM319.00 801.50h2.37V780.02h-2.37zM322.16 801.50h2.37V771.24h-2.37zM325.33 801.50h2.37V770.34h-2.37zM328.49 801.50h2.37V765.95h-2.37zM331.66 801.50h2.37V760.35h-2.37zM334.83 801.50h2.37V757.63h-2.37zM337.99 801.50h2.37V744.47h-2.37zM341.16 801.50h2.37V743.86h-2.37zM344.32 801.50h2.37V733.27h-2.37zM347.49 801.50h2.37V725.71h-2.37zM350.65 801.50h2.37V718.90h-2.37zM353.82 801.50h2.37V706.34h-2.37zM356.99 801.50h2.37V700.75h-2.37zM360.15 801.50h2.37V721.62h-2.37zM363.32 801.50h2.37V737.81h-2.37zM366.48 801.50h2.37V742.35h-2.37zM369.65 801.50h2.37V753.85h-2.37zM372.82 801.50h2.37V766.40h-2.37zM375.98 801.50h2.37V751.43h-2.37zM379.15 801.50h2.37V766.40h-2.37zM382.31 801.50h2.37V777.14h-2.37zM385.48 801.50h2.37V778.05h-2.37zM388.64 801.50h2.37V784.86h-2.37zM391.81 801.50h2.37V784.86h-2.37zM394.98 801.50h2.37V790.00h-2.37zM398.14 801.50h2.37V786.07h-2.37zM401.31 801.50h2.37V792.12h-2.37zM404.47 801.50h2.37V791.36h-2.37zM407.64 801.50h2.37V792.88h-2.37zM410.81 801.50h2.37V792.88h-2.37zM413.97 801.50h2.37V793.94h-2.37zM417.14 801.50h2.37V797.26h-2.37zM420.30 801.50h2.37V799.38h-2.37zM423.47 801.50h2.37V799.68h-2.37zM426.63 801.50h2.37V796.81h-2.37zM429.80 801.50h2.37V797.57h-2.37zM432.97 801.50h2.37V797.87h-2.37zM436.13 801.50h2.37V800.44h-2.37zM439.30 801.50h2.37V796.05h-2.37zM442.46 801.50h2.37V800.89h-2.37zM445.63 801.50h2.37V798.17h-2.37z" fill="#58508d"/>
<path d="M290.11 695.30V801.50M321.77 695.30V801.50M353.42 695.30V801.50M385.08 695.30V801.50M416.74 695.30V801.50M258.45 786.37H448.40M258.45 771.24H448.40M258.45 756.12H448.40M258.45 740.99H448.40M258.45 725.86H448.40M258.45 710.73H448.40M258.45 695.60H448.40" stroke="#a8a8a8" stroke-opacity="0.23" stroke-width="0.55" fill="none"/>
<path d="M258.45 801.04L260.37 800.98L262.29 800.91L264.21 800.83L266.12 800.74L268.04 800.64L269.96 800.52L271.88 800.39L273.80 800.24L275.72 800.07L277.64 799.88L279.56 799.66L281.47 799.41L283.39 799.13L285.31 798.81L287.23 798.45L289.15 798.04L291.07 797.57L292.99 797.04L294.91 796.44L296.82 795.76L298.74 794.99L300.66 794.12L302.58 793.12L304.50 791.99L306.42 790.71L308.34 789.26L310.25 787.62L312.17 785.75L314.09 783.63L316.01 781.22L317.93 778.49L319.85 775.40L321.77 771.98L323.69 768.36L325.60 764.55L327.52 760.60L329.44 756.54L331.36 752.43L333.28 748.32L335.20 744.28L337.12 740.36L339.03 736.64L340.95 733.17L342.87 730.03L344.79 727.27L346.71 724.95L348.63 723.11L350.55 721.80L352.47 721.03L354.38 720.84L356.30 721.21L358.22 722.14L360.14 723.62L362.06 725.61L363.98 728.07L365.90 730.96L367.82 734.20L369.73 737.76L371.65 741.55L373.57 745.51L375.49 749.58L377.41 753.70L379.33 757.80L381.25 761.83L383.16 765.74L385.08 769.49L387.00 773.06L388.92 776.39L390.84 779.37L392.76 781.99L394.68 784.31L396.60 786.35L398.51 788.14L400.43 789.73L402.35 791.12L404.27 792.36L406.19 793.44L408.11 794.40L410.03 795.24L411.94 795.98L413.86 796.64L415.78 797.21L417.70 797.72L419.62 798.17L421.54 798.56L423.46 798.91L425.38 799.22L427.29 799.49L429.21 799.73L431.13 799.94L433.05 800.12L434.97 800.29L436.89 800.43L438.81 800.56L440.73 800.67L442.64 800.77L444.56 800.85L446.48 800.93L448.40 801.00" stroke="#00ffff" stroke-width="2.35" fill="none" stroke-linejoin="round"/>
</g>
<rect x="258.45" y="695.30" width="189.95" height="106.20" fill="none" stroke="#444" stroke-width="0.8"/>
<path d="M258.45 801.50v2.3M290.11 801.50v2.3M321.77 801.50v2.3M353.42 801.50v2.3M385.08 801.50v2.3M416.74 801.50v2.3M448.40 801.50v2.3M258.45 801.50h-2.3M258.45 786.37h-2.3M258.45 771.24h-2.3M258.45 756.12h-2.3M258.45 740.99h-2.3M258.45 725.86h-2.3M258.45 710.73h-2.3M258.45 695.60h-2.3" stroke="#333" stroke-width="0.7" fill="none"/>
<g font-size="6.4" fill="#000" stroke="#000" stroke-width="0.18">
<text transform="translate(257.65 811.00) scale(1.113 1)" text-anchor="middle">-3</text>
<text transform="translate(289.31 811.00) scale(1.113 1)" text-anchor="middle">-2</text>
<text transform="translate(320.97 811.00) scale(1.113 1)" text-anchor="middle">-1</text>
<text transform="translate(353.42 811.00) scale(1.113 1)" text-anchor="middle">0</text>
<text transform="translate(385.08 811.00) scale(1.113 1)" text-anchor="middle">1</text>
<text transform="translate(416.74 811.00) scale(1.113 1)" text-anchor="middle">2</text>
<text transform="translate(448.40 811.00) scale(1.113 1)" text-anchor="middle">3</text>
<text transform="translate(253.45 803.80) scale(1.113 1)" text-anchor="end">0.0</text>
<text transform="translate(253.45 788.67) scale(1.113 1)" text-anchor="end">0.1</text>
<text transform="translate(253.45 773.54) scale(1.113 1)" text-anchor="end">0.2</text>
<text transform="translate(253.45 758.42) scale(1.113 1)" text-anchor="end">0.3</text>
<text transform="translate(253.45 743.29) scale(1.113 1)" text-anchor="end">0.4</text>
<text transform="translate(253.45 728.16) scale(1.113 1)" text-anchor="end">0.5</text>
<text transform="translate(253.45 713.03) scale(1.113 1)" text-anchor="end">0.6</text>
<text transform="translate(253.45 697.90) scale(1.113 1)" text-anchor="end">0.7</text>
</g>
<text transform="translate(240.05 748.40) rotate(-90) scale(1.113 1)" font-size="6.4" text-anchor="middle" fill="#000" stroke="#000" stroke-width="0.18">Y</text>
<text x="353.42" y="819.50" font-size="7" font-style="italic" text-anchor="middle" fill="#000" stroke="#000" stroke-width="0.18">ε</text>
<rect x="386.40" y="698.60" width="58.80" height="19.00" rx="1.3" fill="#fff" fill-opacity="0.8" stroke="#d4d4d4" stroke-width="0.6"/>
<path d="M388.50 708.40h14.6" stroke="#00ffff" stroke-width="2.35"/>
<g font-size="6.4" fill="#000" stroke="#000" stroke-width="0.18" transform="translate(406.80 706.00) scale(1.113 1)"><text font-style="italic">μ</text><text x="4.7" y="-2.3" font-size="4.4">*</text><text x="8.6">=</text><text x="14.0">0.021</text></g>
<g font-size="6.4" fill="#000" stroke="#000" stroke-width="0.18" transform="translate(406.80 713.70) scale(1.113 1)"><text font-style="italic">σ</text><text x="4.7" y="-2.3" font-size="4.4">*</text><text x="8.6">=</text><text x="14.0">0.72</text></g>
<clipPath id="c17"><rect x="258.45" y="828.40" width="189.95" height="106.20"/></clipPath>
<g clip-path="url(#c17)">
<path d="M258.85 934.60h2.37V934.11h-2.37zM262.01 934.60h2.37V932.48h-2.37zM265.18 934.60h2.37V934.11h-2.37zM268.34 934.60h2.37V932.65h-2.37zM271.51 934.60h2.37V932.16h-2.37zM274.67 934.60h2.37V933.95h-2.37zM277.84 934.60h2.37V934.11h-2.37zM281.01 934.60h2.37V933.95h-2.37zM284.17 934.60h2.37V926.62h-2.37zM287.34 934.60h2.37V925.15h-2.37zM290.50 934.60h2.37V924.34h-2.37zM293.67 934.60h2.37V926.13h-2.37zM296.84 934.60h2.37V928.08h-2.37zM300.00 934.60h2.37V921.90h-2.37zM303.17 934.60h2.37V926.62h-2.37zM306.33 934.60h2.37V921.08h-2.37zM309.50 934.60h2.37V919.94h-2.37zM312.66 934.60h2.37V919.94h-2.37zM315.83 934.60h2.37V905.93h-2.37zM319.00 934.60h2.37V910.17h-2.37zM322.16 934.60h2.37V909.35h-2.37zM325.33 934.60h2.37V903.98h-2.37zM328.49 934.60h2.37V897.79h-2.37zM331.66 934.60h2.37V888.67h-2.37zM334.83 934.60h2.37V879.87h-2.37zM337.99 934.60h2.37V871.24h-2.37zM341.16 934.60h2.37V870.42h-2.37zM344.32 934.60h2.37V848.11h-2.37zM347.49 934.60h2.37V858.53h-2.37zM350.65 934.60h2.37V844.20h-2.37zM353.82 934.60h2.37V837.20h-2.37zM356.99 934.60h2.37V840.29h-2.37zM360.15 934.60h2.37V833.94h-2.37zM363.32 934.60h2.37V865.37h-2.37zM366.48 934.60h2.37V872.70h-2.37zM369.65 934.60h2.37V883.29h-2.37zM372.82 934.60h2.37V886.22h-2.37zM375.98 934.60h2.37V883.94h-2.37zM379.15 934.60h2.37V898.60h-2.37zM382.31 934.60h2.37V897.79h-2.37zM385.48 934.60h2.37V901.05h-2.37zM388.64 934.60h2.37V917.82h-2.37zM391.81 934.60h2.37V917.82h-2.37zM394.98 934.60h2.37V914.89h-2.37zM398.14 934.60h2.37V922.87h-2.37zM401.31 934.60h2.37V926.29h-2.37zM404.47 934.60h2.37V927.27h-2.37zM407.64 934.60h2.37V928.08h-2.37zM410.81 934.60h2.37V927.27h-2.37zM413.97 934.60h2.37V926.29h-2.37zM417.14 934.60h2.37V927.27h-2.37zM420.30 934.60h2.37V928.74h-2.37zM423.47 934.60h2.37V928.74h-2.37zM426.63 934.60h2.37V926.29h-2.37zM429.80 934.60h2.37V934.11h-2.37zM432.97 934.60h2.37V931.02h-2.37zM436.13 934.60h2.37V932.16h-2.37zM439.30 934.60h2.37V932.16h-2.37zM442.46 934.60h2.37V933.46h-2.37zM445.63 934.60h2.37V934.11h-2.37z" fill="#bc5090"/>
<path d="M290.11 828.40V934.60M321.77 828.40V934.60M353.42 828.40V934.60M385.08 828.40V934.60M416.74 828.40V934.60M258.45 918.31H448.40M258.45 902.02H448.40M258.45 885.73H448.40M258.45 869.45H448.40M258.45 853.16H448.40M258.45 836.87H448.40" stroke="#a8a8a8" stroke-opacity="0.23" stroke-width="0.55" fill="none"/>
<path d="M258.45 934.15L260.37 934.09L262.29 934.02L264.21 933.95L266.12 933.86L268.04 933.76L269.96 933.64L271.88 933.51L273.80 933.36L275.72 933.19L277.64 933.00L279.56 932.78L281.47 932.53L283.39 932.25L285.31 931.93L287.23 931.56L289.15 931.14L291.07 930.67L292.99 930.14L294.91 929.53L296.82 928.83L298.74 928.05L300.66 927.15L302.58 926.13L304.50 924.98L306.42 923.66L308.34 922.17L310.25 920.47L312.17 918.54L314.09 916.34L316.01 913.85L317.93 911.02L319.85 907.79L321.77 904.16L323.69 900.25L325.60 896.12L327.52 891.81L329.44 887.36L331.36 882.83L333.28 878.27L335.20 873.76L337.12 869.36L339.03 865.15L340.95 861.21L342.87 857.61L344.79 854.42L346.71 851.70L348.63 849.51L350.55 847.89L352.47 846.89L354.38 846.52L356.30 846.79L358.22 847.70L360.14 849.22L362.06 851.32L363.98 853.96L365.90 857.09L367.82 860.63L369.73 864.52L371.65 868.69L373.57 873.07L375.49 877.57L377.41 882.12L379.33 886.66L381.25 891.13L383.16 895.47L385.08 899.63L387.00 903.57L388.92 907.26L390.84 910.54L392.76 913.43L394.68 915.98L396.60 918.22L398.51 920.19L400.43 921.92L402.35 923.44L404.27 924.78L406.19 925.96L408.11 927.00L410.03 927.91L411.94 928.72L413.86 929.42L415.78 930.05L417.70 930.59L419.62 931.08L421.54 931.50L423.46 931.87L425.38 932.20L427.29 932.49L429.21 932.74L431.13 932.97L433.05 933.16L434.97 933.33L436.89 933.49L438.81 933.62L440.73 933.74L442.64 933.84L444.56 933.93L446.48 934.01L448.40 934.08" stroke="#00ffff" stroke-width="2.35" fill="none" stroke-linejoin="round"/>
</g>
<rect x="258.45" y="828.40" width="189.95" height="106.20" fill="none" stroke="#444" stroke-width="0.8"/>
<path d="M258.45 934.60v2.3M290.11 934.60v2.3M321.77 934.60v2.3M353.42 934.60v2.3M385.08 934.60v2.3M416.74 934.60v2.3M448.40 934.60v2.3M258.45 934.60h-2.3M258.45 918.31h-2.3M258.45 902.02h-2.3M258.45 885.73h-2.3M258.45 869.45h-2.3M258.45 853.16h-2.3M258.45 836.87h-2.3" stroke="#333" stroke-width="0.7" fill="none"/>
<g font-size="6.4" fill="#000" stroke="#000" stroke-width="0.18">
<text transform="translate(257.65 944.10) scale(1.113 1)" text-anchor="middle">-3</text>
<text transform="translate(289.31 944.10) scale(1.113 1)" text-anchor="middle">-2</text>
<text transform="translate(320.97 944.10) scale(1.113 1)" text-anchor="middle">-1</text>
<text transform="translate(353.42 944.10) scale(1.113 1)" text-anchor="middle">0</text>
<text transform="translate(385.08 944.10) scale(1.113 1)" text-anchor="middle">1</text>
<text transform="translate(416.74 944.10) scale(1.113 1)" text-anchor="middle">2</text>
<text transform="translate(448.40 944.10) scale(1.113 1)" text-anchor="middle">3</text>
<text transform="translate(253.45 936.90) scale(1.113 1)" text-anchor="end">0.0</text>
<text transform="translate(253.45 920.61) scale(1.113 1)" text-anchor="end">0.1</text>
<text transform="translate(253.45 904.32) scale(1.113 1)" text-anchor="end">0.2</text>
<text transform="translate(253.45 888.03) scale(1.113 1)" text-anchor="end">0.3</text>
<text transform="translate(253.45 871.75) scale(1.113 1)" text-anchor="end">0.4</text>
<text transform="translate(253.45 855.46) scale(1.113 1)" text-anchor="end">0.5</text>
<text transform="translate(253.45 839.17) scale(1.113 1)" text-anchor="end">0.6</text>
</g>
<text transform="translate(240.05 881.50) rotate(-90) scale(1.113 1)" font-size="6.4" text-anchor="middle" fill="#000" stroke="#000" stroke-width="0.18">Z</text>
<text x="353.42" y="952.60" font-size="7" font-style="italic" text-anchor="middle" fill="#000" stroke="#000" stroke-width="0.18">ε</text>
<rect x="386.40" y="831.70" width="58.80" height="19.00" rx="1.3" fill="#fff" fill-opacity="0.8" stroke="#d4d4d4" stroke-width="0.6"/>
<path d="M388.50 841.50h14.6" stroke="#00ffff" stroke-width="2.35"/>
<g font-size="6.4" fill="#000" stroke="#000" stroke-width="0.18" transform="translate(406.80 839.10) scale(1.113 1)"><text font-style="italic">μ</text><text x="4.7" y="-2.3" font-size="4.4">*</text><text x="8.6">=</text><text x="14.0">0.035</text></g>
<g font-size="6.4" fill="#000" stroke="#000" stroke-width="0.18" transform="translate(406.80 846.80) scale(1.113 1)"><text font-style="italic">σ</text><text x="4.7" y="-2.3" font-size="4.4">*</text><text x="8.6">=</text><text x="14.0">0.71</text></g>
<clipPath id="c18"><rect x="258.45" y="961.60" width="189.95" height="106.70"/></clipPath>
<g clip-path="url(#c18)">
<path d="M315.83 1068.30h2.37V1064.12h-2.37zM325.33 1068.30h2.37V1062.62h-2.37zM328.49 1068.30h2.37V1061.91h-2.37zM331.66 1068.30h2.37V1059.38h-2.37zM334.83 1068.30h2.37V1050.94h-2.37zM337.99 1068.30h2.37V1049.44h-2.37zM341.16 1068.30h2.37V1027.42h-2.37zM344.32 1068.30h2.37V1011.24h-2.37zM347.49 1068.30h2.37V988.51h-2.37zM350.65 1068.30h2.37V973.36h-2.37zM353.82 1068.30h2.37V966.49h-2.37zM356.99 1068.30h2.37V998.06h-2.37zM360.15 1068.30h2.37V996.25h-2.37zM363.32 1068.30h2.37V1012.74h-2.37zM366.48 1068.30h2.37V1023.71h-2.37zM369.65 1068.30h2.37V1038.39h-2.37zM372.82 1068.30h2.37V1054.09h-2.37zM375.98 1068.30h2.37V1056.78h-2.37zM379.15 1068.30h2.37V1057.49h-2.37zM382.31 1068.30h2.37V1064.12h-2.37zM385.48 1068.30h2.37V1062.62h-2.37zM388.64 1068.30h2.37V1060.41h-2.37zM394.98 1068.30h2.37V1065.30h-2.37z" fill="#ff6361"/>
<path d="M290.11 961.60V1068.30M321.77 961.60V1068.30M353.42 961.60V1068.30M385.08 961.60V1068.30M416.74 961.60V1068.30M258.45 1052.52H448.40M258.45 1036.73H448.40M258.45 1020.95H448.40M258.45 1005.16H448.40M258.45 989.38H448.40M258.45 973.60H448.40" stroke="#a8a8a8" stroke-opacity="0.23" stroke-width="0.55" fill="none"/>
<path d="M258.45 1068.30L260.37 1068.30L262.29 1068.30L264.21 1068.30L266.12 1068.30L268.04 1068.30L269.96 1068.30L271.88 1068.30L273.80 1068.30L275.72 1068.30L277.64 1068.30L279.56 1068.30L281.47 1068.29L283.39 1068.29L285.31 1068.29L287.23 1068.29L289.15 1068.28L291.07 1068.27L292.99 1068.27L294.91 1068.25L296.82 1068.24L298.74 1068.22L300.66 1068.19L302.58 1068.16L304.50 1068.11L306.42 1068.05L308.34 1067.97L310.25 1067.87L312.17 1067.73L314.09 1067.54L316.01 1067.30L317.93 1066.97L319.85 1066.54L321.77 1065.97L323.69 1065.22L325.60 1064.22L327.52 1062.90L329.44 1061.16L331.36 1058.84L333.28 1055.78L335.20 1051.73L337.12 1046.36L339.03 1039.25L340.95 1030.32L342.87 1020.32L344.79 1009.78L346.71 999.38L348.63 989.91L350.55 982.22L352.47 977.02L354.38 974.83L356.30 975.88L358.22 980.06L360.14 986.95L362.06 995.88L363.98 1006.05L365.90 1016.63L367.82 1026.89L369.73 1036.25L371.65 1044.07L373.57 1050.00L375.49 1054.48L377.41 1057.86L379.33 1060.41L381.25 1062.34L383.16 1063.80L385.08 1064.90L387.00 1065.73L388.92 1066.36L390.84 1066.84L392.76 1067.19L394.68 1067.46L396.60 1067.67L398.51 1067.82L400.43 1067.94L402.35 1068.03L404.27 1068.09L406.19 1068.14L408.11 1068.18L410.03 1068.21L411.94 1068.23L413.86 1068.25L415.78 1068.26L417.70 1068.27L419.62 1068.28L421.54 1068.28L423.46 1068.29L425.38 1068.29L427.29 1068.29L429.21 1068.29L431.13 1068.30L433.05 1068.30L434.97 1068.30L436.89 1068.30L438.81 1068.30L440.73 1068.30L442.64 1068.30L444.56 1068.30L446.48 1068.30L448.40 1068.30" stroke="#00ffff" stroke-width="2.35" fill="none" stroke-linejoin="round"/>
</g>
<rect x="258.45" y="961.60" width="189.95" height="106.70" fill="none" stroke="#444" stroke-width="0.8"/>
<path d="M258.45 1068.30v2.3M290.11 1068.30v2.3M321.77 1068.30v2.3M353.42 1068.30v2.3M385.08 1068.30v2.3M416.74 1068.30v2.3M448.40 1068.30v2.3M258.45 1068.30h-2.3M258.45 1052.52h-2.3M258.45 1036.73h-2.3M258.45 1020.95h-2.3M258.45 1005.16h-2.3M258.45 989.38h-2.3M258.45 973.60h-2.3" stroke="#333" stroke-width="0.7" fill="none"/>
<g font-size="6.4" fill="#000" stroke="#000" stroke-width="0.18">
<text transform="translate(257.65 1077.80) scale(1.113 1)" text-anchor="middle">-3</text>
<text transform="translate(289.31 1077.80) scale(1.113 1)" text-anchor="middle">-2</text>
<text transform="translate(320.97 1077.80) scale(1.113 1)" text-anchor="middle">-1</text>
<text transform="translate(353.42 1077.80) scale(1.113 1)" text-anchor="middle">0</text>
<text transform="translate(385.08 1077.80) scale(1.113 1)" text-anchor="middle">1</text>
<text transform="translate(416.74 1077.80) scale(1.113 1)" text-anchor="middle">2</text>
<text transform="translate(448.40 1077.80) scale(1.113 1)" text-anchor="middle">3</text>
<text transform="translate(253.45 1070.60) scale(1.113 1)" text-anchor="end">0.0</text>
<text transform="translate(253.45 1054.82) scale(1.113 1)" text-anchor="end">0.2</text>
<text transform="translate(253.45 1039.03) scale(1.113 1)" text-anchor="end">0.4</text>
<text transform="translate(253.45 1023.25) scale(1.113 1)" text-anchor="end">0.6</text>
<text transform="translate(253.45 1007.46) scale(1.113 1)" text-anchor="end">0.8</text>
<text transform="translate(253.45 991.68) scale(1.113 1)" text-anchor="end">1.0</text>
<text transform="translate(253.45 975.90) scale(1.113 1)" text-anchor="end">1.2</text>
</g>
<text transform="translate(240.05 1014.95) rotate(-90) scale(1.113 1)" font-size="6.4" text-anchor="middle" fill="#000" stroke="#000" stroke-width="0.18">F</text>
<text x="353.42" y="1086.30" font-size="7" font-style="italic" text-anchor="middle" fill="#000" stroke="#000" stroke-width="0.18">ε</text>
<rect x="386.40" y="964.90" width="58.80" height="19.00" rx="1.3" fill="#fff" fill-opacity="0.8" stroke="#d4d4d4" stroke-width="0.6"/>
<path d="M388.50 974.70h14.6" stroke="#00ffff" stroke-width="2.35"/>
<g font-size="6.4" fill="#000" stroke="#000" stroke-width="0.18" transform="translate(406.80 972.30) scale(1.113 1)"><text font-style="italic">μ</text><text x="4.7" y="-2.3" font-size="4.4">*</text><text x="8.6">=</text><text x="14.0">0.041</text></g>
<g font-size="6.4" fill="#000" stroke="#000" stroke-width="0.18" transform="translate(406.80 980.00) scale(1.113 1)"><text font-style="italic">σ</text><text x="4.7" y="-2.3" font-size="4.4">*</text><text x="8.6">=</text><text x="14.0">0.32</text></g>
<clipPath id="c19"><rect x="497.15" y="561.90" width="186.45" height="106.60"/></clipPath>
<g clip-path="url(#c19)">
<path d="M497.54 668.50h2.33V666.50h-2.33zM500.65 668.50h2.33V668.20h-2.33zM503.75 668.50h2.33V668.20h-2.33zM506.86 668.50h2.33V666.90h-2.33zM509.97 668.50h2.33V668.20h-2.33zM513.08 668.50h2.33V668.20h-2.33zM516.18 668.50h2.33V666.50h-2.33zM519.29 668.50h2.33V667.50h-2.33zM522.40 668.50h2.33V665.50h-2.33zM525.51 668.50h2.33V665.50h-2.33zM528.61 668.50h2.33V666.50h-2.33zM531.72 668.50h2.33V665.50h-2.33zM534.83 668.50h2.33V665.00h-2.33zM537.94 668.50h2.33V664.50h-2.33zM541.04 668.50h2.33V662.20h-2.33zM544.15 668.50h2.33V662.50h-2.33zM547.26 668.50h2.33V661.10h-2.33zM550.37 668.50h2.33V659.30h-2.33zM553.47 668.50h2.33V657.90h-2.33zM556.58 668.50h2.33V653.80h-2.33zM559.69 668.50h2.33V657.90h-2.33zM562.80 668.50h2.33V653.50h-2.33zM565.90 668.50h2.33V649.90h-2.33zM569.01 668.50h2.33V640.40h-2.33zM572.12 668.50h2.33V636.00h-2.33zM575.23 668.50h2.33V629.20h-2.33zM578.33 668.50h2.33V617.40h-2.33zM581.44 668.50h2.33V602.20h-2.33zM584.55 668.50h2.33V577.80h-2.33zM587.66 668.50h2.33V567.60h-2.33zM590.76 668.50h2.33V570.50h-2.33zM593.87 668.50h2.33V599.60h-2.33zM596.98 668.50h2.33V612.00h-2.33zM600.09 668.50h2.33V626.50h-2.33zM603.19 668.50h2.33V640.40h-2.33zM606.30 668.50h2.33V645.50h-2.33zM609.41 668.50h2.33V650.60h-2.33zM612.52 668.50h2.33V654.20h-2.33zM615.62 668.50h2.33V656.40h-2.33zM618.73 668.50h2.33V660.80h-2.33zM621.84 668.50h2.33V660.10h-2.33zM624.95 668.50h2.33V663.70h-2.33zM628.05 668.50h2.33V663.70h-2.33zM631.16 668.50h2.33V664.90h-2.33zM634.27 668.50h2.33V665.10h-2.33zM637.38 668.50h2.33V664.90h-2.33zM640.48 668.50h2.33V665.50h-2.33zM643.59 668.50h2.33V665.50h-2.33zM646.70 668.50h2.33V666.00h-2.33zM649.81 668.50h2.33V667.00h-2.33zM652.91 668.50h2.33V667.70h-2.33zM656.02 668.50h2.33V668.20h-2.33zM659.13 668.50h2.33V668.20h-2.33zM662.24 668.50h2.33V668.20h-2.33zM665.34 668.50h2.33V668.20h-2.33zM668.45 668.50h2.33V668.20h-2.33z" fill="#003f5c"/>
<path d="M528.23 561.90V668.50M559.30 561.90V668.50M590.38 561.90V668.50M621.45 561.90V668.50M652.52 561.90V668.50M497.15 648.50H683.60M497.15 628.50H683.60M497.15 608.50H683.60M497.15 588.50H683.60M497.15 568.50H683.60" stroke="#a8a8a8" stroke-opacity="0.23" stroke-width="0.55" fill="none"/>
<path d="M497.15 668.49L499.03 668.49L500.92 668.49L502.80 668.48L504.68 668.48L506.57 668.47L508.45 668.47L510.33 668.46L512.22 668.45L514.10 668.44L515.98 668.42L517.87 668.40L519.75 668.38L521.63 668.35L523.52 668.32L525.40 668.28L527.28 668.23L529.17 668.16L531.05 668.08L532.93 667.98L534.82 667.86L536.70 667.71L538.58 667.52L540.47 667.29L542.35 667.01L544.23 666.66L546.12 666.22L548.00 665.69L549.88 665.02L551.77 664.21L553.65 663.19L555.53 661.95L557.42 660.40L559.30 658.50L561.18 656.14L563.07 653.23L564.95 649.64L566.83 645.20L568.72 639.71L570.60 633.26L572.48 626.22L574.37 618.76L576.25 611.14L578.13 603.66L580.02 596.64L581.90 590.42L583.78 585.34L585.67 581.67L587.55 579.61L589.43 579.31L591.32 580.76L593.20 583.88L595.08 588.50L596.97 594.35L598.85 601.13L600.73 608.49L602.62 616.10L604.50 623.64L606.38 630.86L608.27 637.53L610.15 643.41L612.03 648.19L613.92 652.06L615.80 655.19L617.68 657.73L619.57 659.78L621.45 661.44L623.33 662.79L625.22 663.88L627.10 664.76L628.98 665.47L630.87 666.05L632.75 666.52L634.63 666.89L636.52 667.20L638.40 667.45L640.28 667.65L642.17 667.81L644.05 667.94L645.93 668.05L647.82 668.13L649.70 668.20L651.58 668.26L653.47 668.31L655.35 668.34L657.23 668.37L659.12 668.40L661.00 668.42L662.88 668.43L664.77 668.45L666.65 668.46L668.53 668.46L670.42 668.47L672.30 668.48L674.18 668.48L676.07 668.48L677.95 668.49L679.83 668.49L681.72 668.49L683.60 668.49" stroke="#00ffff" stroke-width="2.35" fill="none" stroke-linejoin="round"/>
</g>
<rect x="497.15" y="561.90" width="186.45" height="106.60" fill="none" stroke="#444" stroke-width="0.8"/>
<path d="M497.15 668.50v2.3M528.23 668.50v2.3M559.30 668.50v2.3M590.38 668.50v2.3M621.45 668.50v2.3M652.52 668.50v2.3M683.60 668.50v2.3M497.15 668.50h-2.3M497.15 648.50h-2.3M497.15 628.50h-2.3M497.15 608.50h-2.3M497.15 588.50h-2.3M497.15 568.50h-2.3" stroke="#333" stroke-width="0.7" fill="none"/>
<g font-size="6.4" fill="#000" stroke="#000" stroke-width="0.18">
<text transform="translate(496.35 678.00) scale(1.113 1)" text-anchor="middle">-3</text>
<text transform="translate(527.43 678.00) scale(1.113 1)" text-anchor="middle">-2</text>
<text transform="translate(558.50 678.00) scale(1.113 1)" text-anchor="middle">-1</text>
<text transform="translate(590.38 678.00) scale(1.113 1)" text-anchor="middle">0</text>
<text transform="translate(621.45 678.00) scale(1.113 1)" text-anchor="middle">1</text>
<text transform="translate(652.52 678.00) scale(1.113 1)" text-anchor="middle">2</text>
<text transform="translate(683.60 678.00) scale(1.113 1)" text-anchor="middle">3</text>
<text transform="translate(492.15 670.80) scale(1.113 1)" text-anchor="end">0.0</text>
<text transform="translate(492.15 650.80) scale(1.113 1)" text-anchor="end">0.2</text>
<text transform="translate(492.15 630.80) scale(1.113 1)" text-anchor="end">0.4</text>
<text transform="translate(492.15 610.80) scale(1.113 1)" text-anchor="end">0.6</text>
<text transform="translate(492.15 590.80) scale(1.113 1)" text-anchor="end">0.8</text>
<text transform="translate(492.15 570.80) scale(1.113 1)" text-anchor="end">1.0</text>
</g>
<text transform="translate(478.75 615.20) rotate(-90) scale(1.113 1)" font-size="6.4" text-anchor="middle" fill="#000" stroke="#000" stroke-width="0.18">X</text>
<text x="590.38" y="686.50" font-size="7" font-style="italic" text-anchor="middle" fill="#000" stroke="#000" stroke-width="0.18">ε</text>
<text transform="translate(590.38 557.80) scale(0.965 1)" font-size="8" text-anchor="middle" fill="#000" stroke="#000" stroke-width="0.18">VO SWARM (MF)</text>
<rect x="622.70" y="565.20" width="57.70" height="19.00" rx="1.3" fill="#fff" fill-opacity="0.8" stroke="#d4d4d4" stroke-width="0.6"/>
<path d="M624.80 575.00h14.6" stroke="#00ffff" stroke-width="2.35"/>
<g font-size="6.4" fill="#000" stroke="#000" stroke-width="0.18" transform="translate(643.10 572.60) scale(1.113 1)"><text font-style="italic">μ</text><text x="4.7" y="-2.3" font-size="4.4">*</text><text x="8.6">=</text><text x="14.0">-0.05</text></g>
<g font-size="6.4" fill="#000" stroke="#000" stroke-width="0.18" transform="translate(643.10 580.30) scale(1.113 1)"><text font-style="italic">σ</text><text x="4.7" y="-2.3" font-size="4.4">*</text><text x="8.6">=</text><text x="14.0">0.43</text></g>
<clipPath id="c20"><rect x="497.15" y="695.30" width="186.45" height="106.20"/></clipPath>
<g clip-path="url(#c20)">
<path d="M519.29 801.50h2.33V800.65h-2.33zM528.61 801.50h2.33V800.65h-2.33zM531.72 801.50h2.33V800.23h-2.33zM534.83 801.50h2.33V799.80h-2.33zM537.94 801.50h2.33V799.80h-2.33zM541.04 801.50h2.33V800.82h-2.33zM544.15 801.50h2.33V798.19h-2.33zM547.26 801.50h2.33V797.17h-2.33zM550.37 801.50h2.33V798.19h-2.33zM553.47 801.50h2.33V795.73h-2.33zM556.58 801.50h2.33V794.71h-2.33zM559.69 801.50h2.33V793.87h-2.33zM562.80 801.50h2.33V791.41h-2.33zM565.90 801.50h2.33V789.20h-2.33zM569.01 801.50h2.33V784.79h-2.33zM572.12 801.50h2.33V779.02h-2.33zM575.23 801.50h2.33V765.11h-2.33zM578.33 801.50h2.33V755.19h-2.33zM581.44 801.50h2.33V739.32h-2.33zM584.55 801.50h2.33V720.66h-2.33zM587.66 801.50h2.33V700.56h-2.33zM590.76 801.50h2.33V707.26h-2.33zM593.87 801.50h2.33V727.28h-2.33zM596.98 801.50h2.33V746.19h-2.33zM600.09 801.50h2.33V760.78h-2.33zM603.19 801.50h2.33V769.52h-2.33zM606.30 801.50h2.33V779.70h-2.33zM609.41 801.50h2.33V787.00h-2.33zM612.52 801.50h2.33V792.08h-2.33zM615.62 801.50h2.33V790.90h-2.33zM618.73 801.50h2.33V797.17h-2.33zM621.84 801.50h2.33V795.31h-2.33zM624.95 801.50h2.33V797.60h-2.33zM628.05 801.50h2.33V799.38h-2.33zM631.16 801.50h2.33V798.62h-2.33zM634.27 801.50h2.33V800.82h-2.33zM637.38 801.50h2.33V799.38h-2.33zM640.48 801.50h2.33V801.25h-2.33zM643.59 801.50h2.33V801.25h-2.33z" fill="#58508d"/>
<path d="M528.23 695.30V801.50M559.30 695.30V801.50M590.38 695.30V801.50M621.45 695.30V801.50M652.52 695.30V801.50M497.15 784.54H683.60M497.15 767.57H683.60M497.15 750.61H683.60M497.15 733.64H683.60M497.15 716.68H683.60M497.15 699.71H683.60" stroke="#a8a8a8" stroke-opacity="0.23" stroke-width="0.55" fill="none"/>
<path d="M497.15 801.50L499.03 801.50L500.92 801.50L502.80 801.50L504.68 801.50L506.57 801.50L508.45 801.49L510.33 801.49L512.22 801.49L514.10 801.49L515.98 801.49L517.87 801.48L519.75 801.48L521.63 801.47L523.52 801.46L525.40 801.45L527.28 801.44L529.17 801.42L531.05 801.39L532.93 801.36L534.82 801.32L536.70 801.27L538.58 801.21L540.47 801.13L542.35 801.02L544.23 800.88L546.12 800.70L548.00 800.47L549.88 800.18L551.77 799.80L553.65 799.31L555.53 798.68L557.42 797.87L559.30 796.82L561.18 795.48L563.07 793.75L564.95 791.53L566.83 788.66L568.72 784.97L570.60 780.22L572.48 774.11L574.37 766.50L576.25 757.99L578.13 748.91L580.02 739.71L581.90 730.93L583.78 723.16L585.67 716.96L587.55 712.82L589.43 711.08L591.32 711.88L593.20 715.15L595.08 720.63L596.97 727.88L598.85 736.35L600.73 745.46L602.62 754.64L604.50 763.42L606.38 771.41L608.27 778.12L610.15 783.34L612.03 787.39L613.92 790.54L615.80 792.99L617.68 794.89L619.57 796.36L621.45 797.51L623.33 798.40L625.22 799.09L627.10 799.63L628.98 800.05L630.87 800.37L632.75 800.62L634.63 800.82L636.52 800.97L638.40 801.09L640.28 801.18L642.17 801.25L644.05 801.31L645.93 801.35L647.82 801.38L649.70 801.41L651.58 801.43L653.47 801.45L655.35 801.46L657.23 801.47L659.12 801.47L661.00 801.48L662.88 801.48L664.77 801.49L666.65 801.49L668.53 801.49L670.42 801.49L672.30 801.50L674.18 801.50L676.07 801.50L677.95 801.50L679.83 801.50L681.72 801.50L683.60 801.50" stroke="#00ffff" stroke-width="2.35" fill="none" stroke-linejoin="round"/>
</g>
<rect x="497.15" y="695.30" width="186.45" height="106.20" fill="none" stroke="#444" stroke-width="0.8"/>
<path d="M497.15 801.50v2.3M528.23 801.50v2.3M559.30 801.50v2.3M590.38 801.50v2.3M621.45 801.50v2.3M652.52 801.50v2.3M683.60 801.50v2.3M497.15 801.50h-2.3M497.15 784.54h-2.3M497.15 767.57h-2.3M497.15 750.61h-2.3M497.15 733.64h-2.3M497.15 716.68h-2.3M497.15 699.71h-2.3" stroke="#333" stroke-width="0.7" fill="none"/>
<g font-size="6.4" fill="#000" stroke="#000" stroke-width="0.18">
<text transform="translate(496.35 811.00) scale(1.113 1)" text-anchor="middle">-3</text>
<text transform="translate(527.43 811.00) scale(1.113 1)" text-anchor="middle">-2</text>
<text transform="translate(558.50 811.00) scale(1.113 1)" text-anchor="middle">-1</text>
<text transform="translate(590.38 811.00) scale(1.113 1)" text-anchor="middle">0</text>
<text transform="translate(621.45 811.00) scale(1.113 1)" text-anchor="middle">1</text>
<text transform="translate(652.52 811.00) scale(1.113 1)" text-anchor="middle">2</text>
<text transform="translate(683.60 811.00) scale(1.113 1)" text-anchor="middle">3</text>
<text transform="translate(492.15 803.80) scale(1.113 1)" text-anchor="end">0.0</text>
<text transform="translate(492.15 786.84) scale(1.113 1)" text-anchor="end">0.2</text>
<text transform="translate(492.15 769.87) scale(1.113 1)" text-anchor="end">0.4</text>
<text transform="translate(492.15 752.91) scale(1.113 1)" text-anchor="end">0.6</text>
<text transform="translate(492.15 735.94) scale(1.113 1)" text-anchor="end">0.8</text>
<text transform="translate(492.15 718.98) scale(1.113 1)" text-anchor="end">1.0</text>
<text transform="translate(492.15 702.01) scale(1.113 1)" text-anchor="end">1.2</text>
</g>
<text transform="translate(478.75 748.40) rotate(-90) scale(1.113 1)" font-size="6.4" text-anchor="middle" fill="#000" stroke="#000" stroke-width="0.18">Y</text>
<text x="590.38" y="819.50" font-size="7" font-style="italic" text-anchor="middle" fill="#000" stroke="#000" stroke-width="0.18">ε</text>
<rect x="618.80" y="698.60" width="61.60" height="19.00" rx="1.3" fill="#fff" fill-opacity="0.8" stroke="#d4d4d4" stroke-width="0.6"/>
<path d="M620.90 708.40h14.6" stroke="#00ffff" stroke-width="2.35"/>
<g font-size="6.4" fill="#000" stroke="#000" stroke-width="0.18" transform="translate(639.20 706.00) scale(1.113 1)"><text font-style="italic">μ</text><text x="4.7" y="-2.3" font-size="4.4">*</text><text x="8.6">=</text><text x="14.0">-0.019</text></g>
<g font-size="6.4" fill="#000" stroke="#000" stroke-width="0.18" transform="translate(639.20 713.70) scale(1.113 1)"><text font-style="italic">σ</text><text x="4.7" y="-2.3" font-size="4.4">*</text><text x="8.6">=</text><text x="14.0">0.36</text></g>
<clipPath id="c21"><rect x="497.15" y="828.40" width="186.45" height="106.20"/></clipPath>
<g clip-path="url(#c21)">
<path d="M500.65 934.60h2.33V933.33h-2.33zM509.97 934.60h2.33V932.69h-2.33zM513.08 934.60h2.33V932.69h-2.33zM516.18 934.60h2.33V932.69h-2.33zM519.29 934.60h2.33V932.69h-2.33zM522.40 934.60h2.33V932.69h-2.33zM525.51 934.60h2.33V933.96h-2.33zM528.61 934.60h2.33V933.33h-2.33zM531.72 934.60h2.33V932.05h-2.33zM534.83 934.60h2.33V930.78h-2.33zM537.94 934.60h2.33V930.78h-2.33zM541.04 934.60h2.33V929.51h-2.33zM544.15 934.60h2.33V927.72h-2.33zM547.26 934.60h2.33V926.83h-2.33zM550.37 934.60h2.33V923.01h-2.33zM553.47 934.60h2.33V923.65h-2.33zM556.58 934.60h2.33V918.56h-2.33zM559.69 934.60h2.33V917.92h-2.33zM562.80 934.60h2.33V913.21h-2.33zM565.90 934.60h2.33V907.22h-2.33zM569.01 934.60h2.33V898.56h-2.33zM572.12 934.60h2.33V887.36h-2.33zM575.23 934.60h2.33V881.88h-2.33zM578.33 934.60h2.33V864.69h-2.33zM581.44 934.60h2.33V860.36h-2.33zM584.55 934.60h2.33V837.44h-2.33zM587.66 934.60h2.33V845.08h-2.33zM590.76 934.60h2.33V834.13h-2.33zM593.87 934.60h2.33V839.61h-2.33zM596.98 934.60h2.33V861.38h-2.33zM600.09 934.60h2.33V872.46h-2.33zM603.19 934.60h2.33V881.50h-2.33zM606.30 934.60h2.33V897.16h-2.33zM609.41 934.60h2.33V904.04h-2.33zM612.52 934.60h2.33V901.36h-2.33zM615.62 934.60h2.33V910.53h-2.33zM618.73 934.60h2.33V913.46h-2.33zM621.84 934.60h2.33V920.08h-2.33zM624.95 934.60h2.33V923.01h-2.33zM628.05 934.60h2.33V923.01h-2.33zM631.16 934.60h2.33V927.34h-2.33zM634.27 934.60h2.33V929.51h-2.33zM637.38 934.60h2.33V930.27h-2.33zM640.48 934.60h2.33V930.78h-2.33zM643.59 934.60h2.33V931.42h-2.33zM646.70 934.60h2.33V932.69h-2.33zM649.81 934.60h2.33V932.69h-2.33zM652.91 934.60h2.33V933.96h-2.33zM668.45 934.60h2.33V933.96h-2.33z" fill="#bc5090"/>
<path d="M528.23 828.40V934.60M559.30 828.40V934.60M590.38 828.40V934.60M621.45 828.40V934.60M652.52 828.40V934.60M497.15 909.13H683.60M497.15 883.66H683.60M497.15 858.20H683.60M497.15 832.73H683.60" stroke="#a8a8a8" stroke-opacity="0.23" stroke-width="0.55" fill="none"/>
<path d="M497.15 934.54L499.03 934.53L500.92 934.52L502.80 934.50L504.68 934.48L506.57 934.46L508.45 934.43L510.33 934.40L512.22 934.36L514.10 934.32L515.98 934.27L517.87 934.20L519.75 934.13L521.63 934.04L523.52 933.94L525.40 933.81L527.28 933.66L529.17 933.49L531.05 933.28L532.93 933.03L534.82 932.74L536.70 932.39L538.58 931.98L540.47 931.49L542.35 930.91L544.23 930.22L546.12 929.39L548.00 928.42L549.88 927.26L551.77 925.89L553.65 924.26L555.53 922.33L557.42 920.03L559.30 917.31L561.18 914.07L563.07 910.23L564.95 905.67L566.83 900.40L568.72 894.68L570.60 888.61L572.48 882.31L574.37 875.92L576.25 869.61L578.13 863.55L580.02 857.93L581.90 852.94L583.78 848.76L585.67 845.54L587.55 843.40L589.43 842.42L591.32 842.63L593.20 844.04L595.08 846.59L596.97 850.18L598.85 854.67L600.73 859.91L602.62 865.71L604.50 871.88L606.38 878.24L608.27 884.62L610.15 890.85L612.03 896.80L613.92 902.37L615.80 907.41L617.68 911.70L619.57 915.31L621.45 918.35L623.33 920.91L625.22 923.07L627.10 924.89L628.98 926.42L630.87 927.71L632.75 928.79L634.63 929.71L636.52 930.48L638.40 931.13L640.28 931.68L642.17 932.14L644.05 932.53L645.93 932.85L647.82 933.13L649.70 933.36L651.58 933.56L653.47 933.72L655.35 933.86L657.23 933.98L659.12 934.07L661.00 934.16L662.88 934.23L664.77 934.29L666.65 934.34L668.53 934.38L670.42 934.41L672.30 934.44L674.18 934.47L676.07 934.49L677.95 934.51L679.83 934.52L681.72 934.53L683.60 934.54" stroke="#00ffff" stroke-width="2.35" fill="none" stroke-linejoin="round"/>
</g>
<rect x="497.15" y="828.40" width="186.45" height="106.20" fill="none" stroke="#444" stroke-width="0.8"/>
<path d="M497.15 934.60v2.3M528.23 934.60v2.3M559.30 934.60v2.3M590.38 934.60v2.3M621.45 934.60v2.3M652.52 934.60v2.3M683.60 934.60v2.3M497.15 934.60h-2.3M497.15 909.13h-2.3M497.15 883.66h-2.3M497.15 858.20h-2.3M497.15 832.73h-2.3" stroke="#333" stroke-width="0.7" fill="none"/>
<g font-size="6.4" fill="#000" stroke="#000" stroke-width="0.18">
<text transform="translate(496.35 944.10) scale(1.113 1)" text-anchor="middle">-3</text>
<text transform="translate(527.43 944.10) scale(1.113 1)" text-anchor="middle">-2</text>
<text transform="translate(558.50 944.10) scale(1.113 1)" text-anchor="middle">-1</text>
<text transform="translate(590.38 944.10) scale(1.113 1)" text-anchor="middle">0</text>
<text transform="translate(621.45 944.10) scale(1.113 1)" text-anchor="middle">1</text>
<text transform="translate(652.52 944.10) scale(1.113 1)" text-anchor="middle">2</text>
<text transform="translate(683.60 944.10) scale(1.113 1)" text-anchor="middle">3</text>
<text transform="translate(492.15 936.90) scale(1.113 1)" text-anchor="end">0.0</text>
<text transform="translate(492.15 911.43) scale(1.113 1)" text-anchor="end">0.2</text>
<text transform="translate(492.15 885.96) scale(1.113 1)" text-anchor="end">0.4</text>
<text transform="translate(492.15 860.50) scale(1.113 1)" text-anchor="end">0.6</text>
<text transform="translate(492.15 835.03) scale(1.113 1)" text-anchor="end">0.8</text>
</g>
<text transform="translate(478.75 881.50) rotate(-90) scale(1.113 1)" font-size="6.4" text-anchor="middle" fill="#000" stroke="#000" stroke-width="0.18">Z</text>
<text x="590.38" y="952.60" font-size="7" font-style="italic" text-anchor="middle" fill="#000" stroke="#000" stroke-width="0.18">ε</text>
<rect x="618.80" y="831.70" width="61.60" height="19.00" rx="1.3" fill="#fff" fill-opacity="0.8" stroke="#d4d4d4" stroke-width="0.6"/>
<path d="M620.90 841.50h14.6" stroke="#00ffff" stroke-width="2.35"/>
<g font-size="6.4" fill="#000" stroke="#000" stroke-width="0.18" transform="translate(639.20 839.10) scale(1.113 1)"><text font-style="italic">μ</text><text x="4.7" y="-2.3" font-size="4.4">*</text><text x="8.6">=</text><text x="14.0">-0.011</text></g>
<g font-size="6.4" fill="#000" stroke="#000" stroke-width="0.18" transform="translate(639.20 846.80) scale(1.113 1)"><text font-style="italic">σ</text><text x="4.7" y="-2.3" font-size="4.4">*</text><text x="8.6">=</text><text x="14.0">0.53</text></g>
<clipPath id="c22"><rect x="497.15" y="961.60" width="186.45" height="106.70"/></clipPath>
<g clip-path="url(#c22)">
<path d="M547.26 1068.30h2.33V1066.35h-2.33zM550.37 1068.30h2.33V1065.85h-2.33zM553.47 1068.30h2.33V1067.08h-2.33zM556.58 1068.30h2.33V1065.56h-2.33zM559.69 1068.30h2.33V1062.39h-2.33zM562.80 1068.30h2.33V1061.24h-2.33zM565.90 1068.30h2.33V1056.05h-2.33zM569.01 1068.30h2.33V1047.33h-2.33zM572.12 1068.30h2.33V1043.66h-2.33zM575.23 1068.30h2.33V1029.03h-2.33zM578.33 1068.30h2.33V1015.84h-2.33zM581.44 1068.30h2.33V996.10h-2.33zM584.55 1068.30h2.33V974.12h-2.33zM587.66 1068.30h2.33V967.28h-2.33zM590.76 1068.30h2.33V988.75h-2.33zM593.87 1068.30h2.33V1004.17h-2.33zM596.98 1068.30h2.33V1035.15h-2.33zM600.09 1068.30h2.33V1043.66h-2.33zM603.19 1068.30h2.33V1053.17h-2.33zM606.30 1068.30h2.33V1055.62h-2.33zM609.41 1068.30h2.33V1060.45h-2.33zM612.52 1068.30h2.33V1063.83h-2.33zM615.62 1068.30h2.33V1064.12h-2.33zM634.27 1068.30h2.33V1067.08h-2.33z" fill="#ff6361"/>
<path d="M528.23 961.60V1068.30M559.30 961.60V1068.30M590.38 961.60V1068.30M621.45 961.60V1068.30M652.52 961.60V1068.30M497.15 1053.74H683.60M497.15 1039.19H683.60M497.15 1024.63H683.60M497.15 1010.07H683.60M497.15 995.52H683.60M497.15 980.96H683.60M497.15 966.40H683.60" stroke="#a8a8a8" stroke-opacity="0.23" stroke-width="0.55" fill="none"/>
<path d="M497.15 1068.30L499.03 1068.30L500.92 1068.30L502.80 1068.30L504.68 1068.30L506.57 1068.30L508.45 1068.30L510.33 1068.30L512.22 1068.30L514.10 1068.30L515.98 1068.30L517.87 1068.30L519.75 1068.29L521.63 1068.29L523.52 1068.29L525.40 1068.29L527.28 1068.28L529.17 1068.28L531.05 1068.27L532.93 1068.26L534.82 1068.24L536.70 1068.22L538.58 1068.19L540.47 1068.15L542.35 1068.10L544.23 1068.03L546.12 1067.94L548.00 1067.81L549.88 1067.64L551.77 1067.40L553.65 1067.08L555.53 1066.65L557.42 1066.07L559.30 1065.28L561.18 1064.22L563.07 1062.77L564.95 1060.81L566.83 1058.16L568.72 1054.57L570.60 1049.71L572.48 1043.14L574.37 1034.34L576.25 1023.96L578.13 1012.73L580.02 1001.44L581.90 991.08L583.78 982.68L585.67 977.15L587.55 975.15L589.43 976.92L591.32 982.23L593.20 990.48L595.08 1000.75L596.97 1012.01L598.85 1023.27L600.73 1033.72L602.62 1042.65L604.50 1049.36L606.38 1054.31L608.27 1057.97L610.15 1060.67L612.03 1062.66L613.92 1064.14L615.80 1065.23L617.68 1066.03L619.57 1066.62L621.45 1067.06L623.33 1067.39L625.22 1067.62L627.10 1067.80L628.98 1067.93L630.87 1068.03L632.75 1068.10L634.63 1068.15L636.52 1068.19L638.40 1068.22L640.28 1068.24L642.17 1068.26L644.05 1068.27L645.93 1068.28L647.82 1068.28L649.70 1068.29L651.58 1068.29L653.47 1068.29L655.35 1068.29L657.23 1068.30L659.12 1068.30L661.00 1068.30L662.88 1068.30L664.77 1068.30L666.65 1068.30L668.53 1068.30L670.42 1068.30L672.30 1068.30L674.18 1068.30L676.07 1068.30L677.95 1068.30L679.83 1068.30L681.72 1068.30L683.60 1068.30" stroke="#00ffff" stroke-width="2.35" fill="none" stroke-linejoin="round"/>
</g>
<rect x="497.15" y="961.60" width="186.45" height="106.70" fill="none" stroke="#444" stroke-width="0.8"/>
<path d="M497.15 1068.30v2.3M528.23 1068.30v2.3M559.30 1068.30v2.3M590.38 1068.30v2.3M621.45 1068.30v2.3M652.52 1068.30v2.3M683.60 1068.30v2.3M497.15 1068.30h-2.3M497.15 1053.74h-2.3M497.15 1039.19h-2.3M497.15 1024.63h-2.3M497.15 1010.07h-2.3M497.15 995.52h-2.3M497.15 980.96h-2.3M497.15 966.40h-2.3" stroke="#333" stroke-width="0.7" fill="none"/>
<g font-size="6.4" fill="#000" stroke="#000" stroke-width="0.18">
<text transform="translate(496.35 1077.80) scale(1.113 1)" text-anchor="middle">-3</text>
<text transform="translate(527.43 1077.80) scale(1.113 1)" text-anchor="middle">-2</text>
<text transform="translate(558.50 1077.80) scale(1.113 1)" text-anchor="middle">-1</text>
<text transform="translate(590.38 1077.80) scale(1.113 1)" text-anchor="middle">0</text>
<text transform="translate(621.45 1077.80) scale(1.113 1)" text-anchor="middle">1</text>
<text transform="translate(652.52 1077.80) scale(1.113 1)" text-anchor="middle">2</text>
<text transform="translate(683.60 1077.80) scale(1.113 1)" text-anchor="middle">3</text>
<text transform="translate(492.15 1070.60) scale(1.113 1)" text-anchor="end">0.0</text>
<text transform="translate(492.15 1056.04) scale(1.113 1)" text-anchor="end">0.2</text>
<text transform="translate(492.15 1041.49) scale(1.113 1)" text-anchor="end">0.4</text>
<text transform="translate(492.15 1026.93) scale(1.113 1)" text-anchor="end">0.6</text>
<text transform="translate(492.15 1012.37) scale(1.113 1)" text-anchor="end">0.8</text>
<text transform="translate(492.15 997.82) scale(1.113 1)" text-anchor="end">1.0</text>
<text transform="translate(492.15 983.26) scale(1.113 1)" text-anchor="end">1.2</text>
<text transform="translate(492.15 968.70) scale(1.113 1)" text-anchor="end">1.4</text>
</g>
<text transform="translate(478.75 1014.95) rotate(-90) scale(1.113 1)" font-size="6.4" text-anchor="middle" fill="#000" stroke="#000" stroke-width="0.18">F</text>
<text x="590.38" y="1086.30" font-size="7" font-style="italic" text-anchor="middle" fill="#000" stroke="#000" stroke-width="0.18">ε</text>
<rect x="618.80" y="964.90" width="61.60" height="19.00" rx="1.3" fill="#fff" fill-opacity="0.8" stroke="#d4d4d4" stroke-width="0.6"/>
<path d="M620.90 974.70h14.6" stroke="#00ffff" stroke-width="2.35"/>
<g font-size="6.4" fill="#000" stroke="#000" stroke-width="0.18" transform="translate(639.20 972.30) scale(1.113 1)"><text font-style="italic">μ</text><text x="4.7" y="-2.3" font-size="4.4">*</text><text x="8.6">=</text><text x="14.0">-0.089</text></g>
<g font-size="6.4" fill="#000" stroke="#000" stroke-width="0.18" transform="translate(639.20 980.00) scale(1.113 1)"><text font-style="italic">σ</text><text x="4.7" y="-2.3" font-size="4.4">*</text><text x="8.6">=</text><text x="14.0">0.3</text></g>
</svg>
</body></html>
